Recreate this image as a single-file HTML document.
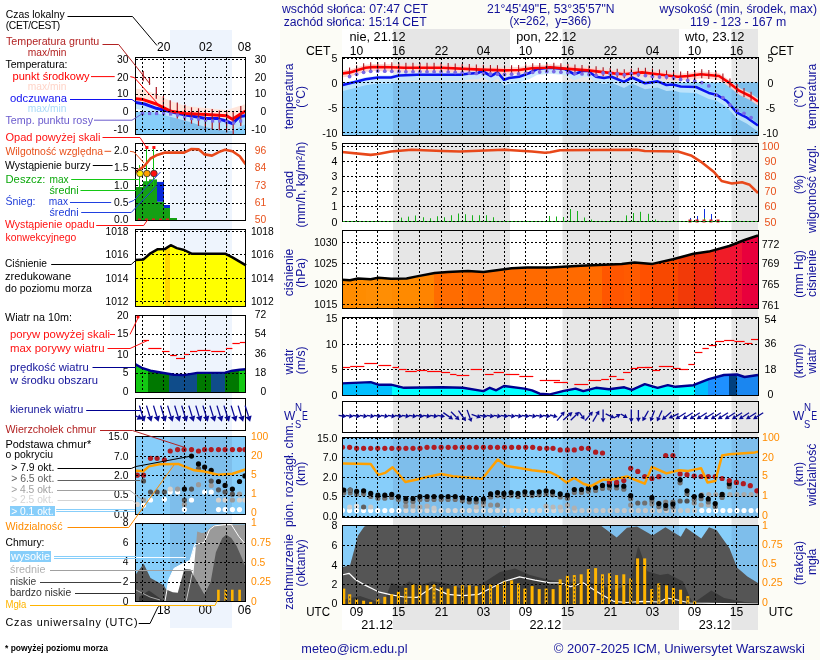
<!DOCTYPE html><html><head><meta charset="utf-8"><title>Meteogram ICM</title><style>html,body{margin:0;padding:0;background:#fff;}svg{display:block;will-change:transform;}text{font-family:"Liberation Sans", Arial, sans-serif;}</style></head><body><svg width="820" height="660" viewBox="0 0 820 660"><rect x="0" y="0" width="820" height="660" fill="#ffffff" /><rect x="280" y="0" width="540" height="660" fill="#fcfcf6" /><rect x="342" y="29" width="416" height="601" fill="#ffffff" /><rect x="393" y="29" width="117" height="601" fill="#e6e6e6" /><rect x="562.5" y="29" width="116.5" height="601" fill="#e6e6e6" /><rect x="731.5" y="29" width="26.5" height="601" fill="#e6e6e6" /><rect x="170" y="30" width="62" height="598" fill="#eef4fd" /><defs><clipPath id="rtemp"><rect x="343" y="58" width="415" height="77"/></clipPath><clipPath id="rprec"><rect x="343" y="144" width="415" height="77"/></clipPath><clipPath id="rpres"><rect x="343" y="231" width="415" height="77"/></clipPath><clipPath id="rwind"><rect x="343" y="318" width="415" height="77"/></clipPath><clipPath id="rwdir"><rect x="343" y="402" width="415" height="30"/></clipPath><clipPath id="rcb"><rect x="343" y="438" width="415" height="79"/></clipPath><clipPath id="rcc"><rect x="343" y="526" width="415" height="78"/></clipPath><clipPath id="ltemp"><rect x="136" y="58" width="109" height="76"/></clipPath><clipPath id="lprec"><rect x="136" y="144" width="109" height="76"/></clipPath><clipPath id="lpres"><rect x="136" y="230" width="109" height="76"/></clipPath><clipPath id="lwind"><rect x="136" y="316" width="109" height="76"/></clipPath><clipPath id="lwdir"><rect x="136" y="399" width="109" height="31"/></clipPath><clipPath id="lcb"><rect x="136" y="437" width="109" height="77"/></clipPath><clipPath id="lcc"><rect x="136" y="524" width="109" height="77"/></clipPath></defs><g clip-path="url(#rtemp)"><rect x="342" y="57" width="416" height="78" fill="#ffffff" /><rect x="393" y="57" width="117" height="78" fill="#e6e6e6" /><rect x="562.5" y="57" width="116.5" height="78" fill="#e6e6e6" /><rect x="731.5" y="57" width="26.5" height="78" fill="#e6e6e6" /><rect x="342" y="82.5" width="416" height="52.5" fill="#87cefa" /><rect x="393" y="82.5" width="117" height="52.5" fill="#7ebeeb" /><rect x="562.5" y="82.5" width="116.5" height="52.5" fill="#7ebeeb" /><rect x="731.5" y="82.5" width="26.5" height="52.5" fill="#7ebeeb" /><polygon points="342.6,70.4 350.0,69.4 358.0,66.9 365.6,64.8 373.3,64.0 391.0,64.3 404.0,64.8 442.0,64.8 480.8,66.6 504.0,67.4 519.0,67.0 532.0,65.3 545.0,64.8 550.0,64.3 565.0,65.6 588.0,67.4 614.0,70.4 624.0,71.2 642.0,69.4 657.5,71.2 678.0,73.8 688.0,73.0 701.0,71.2 719.0,73.0 729.0,79.7 739.5,87.9 750.0,93.0 758.0,98.5 758.0,105.5 750.0,100.0 739.5,94.9 729.0,86.7 719.0,80.0 701.0,78.2 688.0,80.0 678.0,80.8 657.5,78.2 642.0,76.4 624.0,78.2 614.0,77.4 588.0,74.4 565.0,72.6 550.0,71.3 545.0,71.8 532.0,72.3 519.0,74.0 504.0,74.4 480.8,73.6 442.0,71.8 404.0,71.8 391.0,71.3 373.3,71.0 365.6,71.8 358.0,73.9 350.0,76.4 342.6,77.4" fill="#ffd2cc" stroke="none" stroke-width="0" opacity="0.9"/><polygon points="342.6,83.0 355.0,80.0 365.6,77.3 378.0,75.5 391.0,75.5 399.0,73.5 417.0,72.7 460.0,72.7 468.0,71.7 478.0,71.0 482.0,69.0 491.0,74.0 497.5,70.4 504.0,77.8 509.0,76.0 519.0,74.8 529.5,71.0 537.0,67.0 550.0,65.8 565.0,67.0 574.0,72.2 583.0,69.0 588.0,69.0 596.0,74.8 604.0,76.0 611.5,74.8 624.0,79.9 632.0,75.5 645.0,81.2 657.5,79.4 666.5,83.0 673.0,82.5 680.6,84.5 696.0,85.0 708.8,90.9 716.5,92.7 726.7,99.0 737.0,110.6 747.0,115.7 758.0,123.5 758.0,131.5 747.0,123.7 737.0,118.6 726.7,107.0 716.5,100.7 708.8,98.9 696.0,93.0 680.6,92.5 673.0,90.5 666.5,91.0 657.5,87.4 645.0,89.2 632.0,83.5 624.0,87.9 611.5,82.8 604.0,84.0 596.0,82.8 588.0,77.0 583.0,77.0 574.0,80.2 565.0,75.0 550.0,73.8 537.0,75.0 529.5,79.0 519.0,82.8 509.0,84.0 504.0,85.8 497.5,78.4 491.0,82.0 482.0,77.0 478.0,79.0 468.0,79.7 460.0,80.7 417.0,80.7 399.0,81.5 391.0,83.5 378.0,83.5 365.6,85.3 355.0,88.0 342.6,91.0" fill="#c4e6fb" stroke="none" stroke-width="0" opacity="0.85"/><polyline points="342.6,85.0 355.0,82.0 365.6,79.3 378.0,77.5 391.0,77.5 399.0,75.5 417.0,74.7 460.0,74.7 468.0,73.7 478.0,73.0 482.0,71.0 491.0,76.0 497.5,72.4 504.0,79.8 509.0,78.0 519.0,76.8 529.5,73.0 537.0,69.0 550.0,67.8 565.0,69.0 574.0,74.2 583.0,71.0 588.0,71.0 596.0,76.8 604.0,78.0 611.5,76.8 624.0,81.9 632.0,77.5 645.0,83.2 657.5,81.4 666.5,85.0 673.0,84.5 680.6,86.5 696.0,87.0 708.8,92.9 716.5,94.7 726.7,101.0 737.0,112.6 747.0,117.7 758.0,125.5" fill="none" stroke="#0a14f0" stroke-width="2.6" stroke-linejoin="round" /><polyline points="342.6,73.4 350.0,72.4 358.0,69.9 365.6,67.8 373.3,67.0 391.0,67.3 404.0,67.8 442.0,67.8 480.8,69.6 504.0,70.4 519.0,70.0 532.0,68.3 545.0,67.8 550.0,67.3 565.0,68.6 588.0,70.4 614.0,73.4 624.0,74.2 642.0,72.4 657.5,74.2 678.0,76.8 688.0,76.0 701.0,74.2 719.0,76.0 729.0,82.7 739.5,90.9 750.0,96.0 758.0,101.5" fill="none" stroke="#ff0000" stroke-width="2.6" stroke-linejoin="round" /><line x1="349.55600000000004" y1="67.46000000012702" x2="349.55600000000004" y2="76.46000000012702" stroke="#a8141e" stroke-width="1.1" /><circle cx="349.6" cy="76.5" r="1.9" fill="#7a6ae6"/><line x1="356.6" y1="65.3375000002578" x2="356.6" y2="74.3375000002578" stroke="#a8141e" stroke-width="1.1" /><circle cx="356.6" cy="74.3" r="1.9" fill="#7a6ae6"/><line x1="363.644" y1="63.34047368441573" x2="363.644" y2="72.34047368441573" stroke="#a8141e" stroke-width="1.1" /><circle cx="363.6" cy="72.3" r="1.9" fill="#7a6ae6"/><line x1="370.68800000000005" y1="62.27137662344528" x2="370.68800000000005" y2="71.27137662344528" stroke="#a8141e" stroke-width="1.1" /><circle cx="370.7" cy="71.3" r="1.9" fill="#7a6ae6"/><line x1="377.732" y1="62.07511864406355" x2="377.732" y2="71.07511864406355" stroke="#a8141e" stroke-width="1.1" /><circle cx="377.7" cy="71.1" r="1.9" fill="#7a6ae6"/><line x1="384.776" y1="62.19450847456528" x2="384.776" y2="71.19450847456528" stroke="#a8141e" stroke-width="1.1" /><circle cx="384.8" cy="71.2" r="1.9" fill="#7a6ae6"/><line x1="391.82000000000005" y1="62.33153846153604" x2="391.82000000000005" y2="71.33153846153604" stroke="#a8141e" stroke-width="1.1" /><circle cx="391.8" cy="71.3" r="1.9" fill="#7a6ae6"/><line x1="398.86400000000003" y1="62.60246153843828" x2="398.86400000000003" y2="71.60246153843828" stroke="#a8141e" stroke-width="1.1" /><circle cx="398.9" cy="71.6" r="1.9" fill="#7a6ae6"/><line x1="405.908" y1="62.8" x2="405.908" y2="71.8" stroke="#a8141e" stroke-width="1.1" /><circle cx="405.9" cy="71.8" r="1.9" fill="#7a6ae6"/><line x1="412.952" y1="62.8" x2="412.952" y2="71.8" stroke="#a8141e" stroke-width="1.1" /><circle cx="413.0" cy="71.8" r="1.9" fill="#7a6ae6"/><line x1="419.99600000000004" y1="62.8" x2="419.99600000000004" y2="71.8" stroke="#a8141e" stroke-width="1.1" /><circle cx="420.0" cy="71.8" r="1.9" fill="#7a6ae6"/><line x1="427.04" y1="62.8" x2="427.04" y2="71.8" stroke="#a8141e" stroke-width="1.1" /><circle cx="427.0" cy="71.8" r="1.9" fill="#7a6ae6"/><line x1="434.084" y1="62.8" x2="434.084" y2="71.8" stroke="#a8141e" stroke-width="1.1" /><circle cx="434.1" cy="71.8" r="1.9" fill="#7a6ae6"/><line x1="441.12800000000004" y1="62.8" x2="441.12800000000004" y2="71.8" stroke="#a8141e" stroke-width="1.1" /><circle cx="441.1" cy="71.8" r="1.9" fill="#7a6ae6"/><line x1="448.172" y1="63.08632989689984" x2="448.172" y2="72.08632989689984" stroke="#a8141e" stroke-width="1.1" /><circle cx="448.2" cy="72.1" r="1.9" fill="#7a6ae6"/><line x1="455.216" y1="63.41311340204605" x2="455.216" y2="72.41311340204605" stroke="#a8141e" stroke-width="1.1" /><circle cx="455.2" cy="72.4" r="1.9" fill="#7a6ae6"/><line x1="462.26" y1="63.73989690719226" x2="462.26" y2="72.73989690719226" stroke="#a8141e" stroke-width="1.1" /><circle cx="462.3" cy="72.7" r="1.9" fill="#7a6ae6"/><line x1="469.30400000000003" y1="64.06668041233848" x2="469.30400000000003" y2="73.06668041233848" stroke="#a8141e" stroke-width="1.1" /><circle cx="469.3" cy="73.1" r="1.9" fill="#7a6ae6"/><line x1="476.348" y1="64.3934639174847" x2="476.348" y2="73.3934639174847" stroke="#a8141e" stroke-width="1.1" /><circle cx="476.3" cy="73.4" r="1.9" fill="#7a6ae6"/><line x1="483.392" y1="64.68937931034097" x2="483.392" y2="73.68937931034097" stroke="#a8141e" stroke-width="1.1" /><circle cx="483.4" cy="73.7" r="1.9" fill="#7a6ae6"/><line x1="490.43600000000004" y1="64.93227586205464" x2="490.43600000000004" y2="73.93227586205464" stroke="#a8141e" stroke-width="1.1" /><circle cx="490.4" cy="73.9" r="1.9" fill="#7a6ae6"/><line x1="497.48" y1="65.17517241376831" x2="497.48" y2="74.17517241376831" stroke="#a8141e" stroke-width="1.1" /><circle cx="497.5" cy="74.2" r="1.9" fill="#7a6ae6"/><line x1="504.524" y1="65.3860266666676" x2="504.524" y2="74.3860266666676" stroke="#a8141e" stroke-width="1.1" /><circle cx="504.5" cy="74.4" r="1.9" fill="#7a6ae6"/><line x1="511.568" y1="65.19818666668013" x2="511.568" y2="74.19818666668013" stroke="#a8141e" stroke-width="1.1" /><circle cx="511.6" cy="74.2" r="1.9" fill="#7a6ae6"/><line x1="518.6120000000001" y1="65.01034666669264" x2="518.6120000000001" y2="74.01034666669264" stroke="#a8141e" stroke-width="1.1" /><circle cx="518.6" cy="74.0" r="1.9" fill="#7a6ae6"/><line x1="525.656" y1="64.12960000006696" x2="525.656" y2="73.12960000006696" stroke="#a8141e" stroke-width="1.1" /><circle cx="525.7" cy="73.1" r="1.9" fill="#7a6ae6"/><line x1="532.7" y1="63.27307692307899" x2="532.7" y2="72.27307692307899" stroke="#a8141e" stroke-width="1.1" /><circle cx="532.7" cy="72.3" r="1.9" fill="#7a6ae6"/><line x1="539.744" y1="63.00215384617675" x2="539.744" y2="72.00215384617675" stroke="#a8141e" stroke-width="1.1" /><circle cx="539.7" cy="72.0" r="1.9" fill="#7a6ae6"/><line x1="546.788" y1="62.621200000035756" x2="546.788" y2="71.62120000003576" stroke="#a8141e" stroke-width="1.1" /><circle cx="546.8" cy="71.6" r="1.9" fill="#7a6ae6"/><line x1="553.832" y1="62.63210666664452" x2="553.832" y2="71.63210666664452" stroke="#a8141e" stroke-width="1.1" /><circle cx="553.8" cy="71.6" r="1.9" fill="#7a6ae6"/><line x1="560.876" y1="63.24258666660383" x2="560.876" y2="72.24258666660383" stroke="#a8141e" stroke-width="1.1" /><circle cx="560.9" cy="72.2" r="1.9" fill="#7a6ae6"/><line x1="567.9200000000001" y1="63.828521739120504" x2="567.9200000000001" y2="72.8285217391205" stroke="#a8141e" stroke-width="1.1" /><circle cx="567.9" cy="72.8" r="1.9" fill="#7a6ae6"/><line x1="574.9639999999999" y1="64.37979130431391" x2="574.9639999999999" y2="73.37979130431391" stroke="#a8141e" stroke-width="1.1" /><circle cx="575.0" cy="73.4" r="1.9" fill="#7a6ae6"/><line x1="582.008" y1="64.93106086950735" x2="582.008" y2="73.93106086950735" stroke="#a8141e" stroke-width="1.1" /><circle cx="582.0" cy="73.9" r="1.9" fill="#7a6ae6"/><line x1="589.052" y1="65.52138461537996" x2="589.052" y2="74.52138461537996" stroke="#a8141e" stroke-width="1.1" /><circle cx="589.1" cy="74.5" r="1.9" fill="#7a6ae6"/><line x1="596.096" y1="66.33415384611793" x2="596.096" y2="75.33415384611793" stroke="#a8141e" stroke-width="1.1" /><circle cx="596.1" cy="75.3" r="1.9" fill="#7a6ae6"/><line x1="603.14" y1="67.1469230768559" x2="603.14" y2="76.1469230768559" stroke="#a8141e" stroke-width="1.1" /><circle cx="603.1" cy="73.0" r="1.9" fill="#7a6ae6"/><line x1="610.184" y1="67.95969230759385" x2="610.184" y2="76.95969230759385" stroke="#a8141e" stroke-width="1.1" /><circle cx="610.2" cy="73.5" r="1.9" fill="#7a6ae6"/><line x1="617.2280000000001" y1="68.65823999997419" x2="617.2280000000001" y2="77.65823999997419" stroke="#a8141e" stroke-width="1.1" /><circle cx="617.2" cy="74.0" r="1.9" fill="#7a6ae6"/><line x1="624.2719999999999" y1="69.17280000000152" x2="624.2719999999999" y2="78.17280000000152" stroke="#a8141e" stroke-width="1.1" /><circle cx="624.3" cy="74.9" r="1.9" fill="#7a6ae6"/><line x1="631.316" y1="68.46840000004065" x2="631.316" y2="77.46840000004065" stroke="#a8141e" stroke-width="1.1" /><circle cx="631.3" cy="73.6" r="1.9" fill="#7a6ae6"/><line x1="638.36" y1="67.76400000007978" x2="638.36" y2="76.76400000007978" stroke="#a8141e" stroke-width="1.1" /><circle cx="638.4" cy="74.6" r="1.9" fill="#7a6ae6"/><line x1="645.404" y1="67.79530322578096" x2="645.404" y2="76.79530322578096" stroke="#a8141e" stroke-width="1.1" /><circle cx="645.4" cy="75.6" r="1.9" fill="#7a6ae6"/><line x1="652.448" y1="68.61331612895398" x2="652.448" y2="77.61331612895398" stroke="#a8141e" stroke-width="1.1" /><circle cx="652.4" cy="76.5" r="1.9" fill="#7a6ae6"/><line x1="659.492" y1="69.4526439024267" x2="659.492" y2="78.4526439024267" stroke="#a8141e" stroke-width="1.1" /><circle cx="659.5" cy="76.9" r="1.9" fill="#7a6ae6"/><line x1="666.5360000000001" y1="70.34602926823679" x2="666.5360000000001" y2="79.34602926823679" stroke="#a8141e" stroke-width="1.1" /><circle cx="666.5" cy="77.0" r="1.9" fill="#7a6ae6"/><line x1="673.5799999999999" y1="71.23941463404685" x2="673.5799999999999" y2="80.23941463404685" stroke="#a8141e" stroke-width="1.1" /><circle cx="673.6" cy="78.1" r="1.9" fill="#7a6ae6"/><line x1="680.624" y1="71.59008000002099" x2="680.624" y2="80.59008000002099" stroke="#a8141e" stroke-width="1.1" /><circle cx="680.6" cy="79.5" r="1.9" fill="#7a6ae6"/><line x1="687.668" y1="71.02656000007734" x2="687.668" y2="80.02656000007734" stroke="#a8141e" stroke-width="1.1" /><circle cx="687.7" cy="80.4" r="1.9" fill="#7a6ae6"/><line x1="694.712" y1="70.07064615391765" x2="694.712" y2="79.07064615391765" stroke="#a8141e" stroke-width="1.1" /><circle cx="694.7" cy="80.9" r="1.9" fill="#7a6ae6"/><line x1="701.7560000000001" y1="69.2755999999958" x2="701.7560000000001" y2="78.2755999999958" stroke="#a8141e" stroke-width="1.1" /><circle cx="701.8" cy="82.6" r="1.9" fill="#7a6ae6"/><line x1="708.8" y1="69.97999999995666" x2="708.8" y2="78.97999999995666" stroke="#a8141e" stroke-width="1.1" /><circle cx="708.8" cy="85.9" r="1.9" fill="#7a6ae6"/><line x1="715.844" y1="70.68439999991755" x2="715.844" y2="79.68439999991755" stroke="#a8141e" stroke-width="1.1" /><circle cx="715.8" cy="95.2" r="1.9" fill="#7a6ae6"/><line x1="722.8879999999999" y1="73.60495999973945" x2="722.8879999999999" y2="82.60495999973945" stroke="#a8141e" stroke-width="1.1" /><circle cx="722.9" cy="97.6" r="1.9" fill="#7a6ae6"/><line x1="729.932" y1="78.42784761897832" x2="729.932" y2="87.42784761897832" stroke="#a8141e" stroke-width="1.1" /><circle cx="729.9" cy="105.0" r="1.9" fill="#7a6ae6"/><line x1="736.976" y1="83.92887618988297" x2="736.976" y2="92.92887618988297" stroke="#a8141e" stroke-width="1.1" /><circle cx="737.0" cy="110.5" r="1.9" fill="#7a6ae6"/><line x1="744.02" y1="88.09542857121947" x2="744.02" y2="97.09542857121947" stroke="#a8141e" stroke-width="1.1" /><circle cx="744.0" cy="113.3" r="1.9" fill="#7a6ae6"/><line x1="751.0640000000001" y1="91.73149999990862" x2="751.0640000000001" y2="100.73149999990862" stroke="#a8141e" stroke-width="1.1" /><circle cx="751.1" cy="117.6" r="1.9" fill="#7a6ae6"/></g><line x1="343" y1="58.0" x2="758" y2="58.0" stroke="#000" stroke-width="1" stroke-dasharray="2,2" shape-rendering="crispEdges"/><line x1="343" y1="82.5" x2="758" y2="82.5" stroke="#000" stroke-width="1" stroke-dasharray="2,2" shape-rendering="crispEdges"/><line x1="343" y1="107.5" x2="758" y2="107.5" stroke="#000" stroke-width="1" stroke-dasharray="2,2" shape-rendering="crispEdges"/><line x1="343" y1="132.5" x2="758" y2="132.5" stroke="#000" stroke-width="1" stroke-dasharray="2,2" shape-rendering="crispEdges"/><line x1="356.5" y1="58" x2="356.5" y2="135" stroke="#000" stroke-width="1" stroke-dasharray="2,2" shape-rendering="crispEdges"/><line x1="377.5" y1="58" x2="377.5" y2="135" stroke="#000" stroke-width="1" stroke-dasharray="2,2" shape-rendering="crispEdges"/><line x1="398.5" y1="58" x2="398.5" y2="135" stroke="#000" stroke-width="1" stroke-dasharray="2,2" shape-rendering="crispEdges"/><line x1="419.5" y1="58" x2="419.5" y2="135" stroke="#000" stroke-width="1" stroke-dasharray="2,2" shape-rendering="crispEdges"/><line x1="441.5" y1="58" x2="441.5" y2="135" stroke="#000" stroke-width="1" stroke-dasharray="2,2" shape-rendering="crispEdges"/><line x1="462.5" y1="58" x2="462.5" y2="135" stroke="#000" stroke-width="1" stroke-dasharray="2,2" shape-rendering="crispEdges"/><line x1="483.5" y1="58" x2="483.5" y2="135" stroke="#000" stroke-width="1" stroke-dasharray="2,2" shape-rendering="crispEdges"/><line x1="504.5" y1="58" x2="504.5" y2="135" stroke="#000" stroke-width="1" stroke-dasharray="2,2" shape-rendering="crispEdges"/><line x1="525.5" y1="58" x2="525.5" y2="135" stroke="#000" stroke-width="1" stroke-dasharray="2,2" shape-rendering="crispEdges"/><line x1="546.5" y1="58" x2="546.5" y2="135" stroke="#000" stroke-width="1" stroke-dasharray="2,2" shape-rendering="crispEdges"/><line x1="567.5" y1="58" x2="567.5" y2="135" stroke="#000" stroke-width="1" stroke-dasharray="2,2" shape-rendering="crispEdges"/><line x1="589.5" y1="58" x2="589.5" y2="135" stroke="#000" stroke-width="1" stroke-dasharray="2,2" shape-rendering="crispEdges"/><line x1="610.5" y1="58" x2="610.5" y2="135" stroke="#000" stroke-width="1" stroke-dasharray="2,2" shape-rendering="crispEdges"/><line x1="631.5" y1="58" x2="631.5" y2="135" stroke="#000" stroke-width="1" stroke-dasharray="2,2" shape-rendering="crispEdges"/><line x1="652.5" y1="58" x2="652.5" y2="135" stroke="#000" stroke-width="1" stroke-dasharray="2,2" shape-rendering="crispEdges"/><line x1="673.5" y1="58" x2="673.5" y2="135" stroke="#000" stroke-width="1" stroke-dasharray="2,2" shape-rendering="crispEdges"/><line x1="694.5" y1="58" x2="694.5" y2="135" stroke="#000" stroke-width="1" stroke-dasharray="2,2" shape-rendering="crispEdges"/><line x1="715.5" y1="58" x2="715.5" y2="135" stroke="#000" stroke-width="1" stroke-dasharray="2,2" shape-rendering="crispEdges"/><line x1="736.5" y1="58" x2="736.5" y2="135" stroke="#000" stroke-width="1" stroke-dasharray="2,2" shape-rendering="crispEdges"/><rect x="342.5" y="57.5" width="416" height="78" fill="none" stroke="#000" stroke-width="1" shape-rendering="crispEdges"/><g clip-path="url(#rprec)"><rect x="401" y="217.6" width="1" height="3.4" fill="#17b01a" /><rect x="408" y="216.6" width="1" height="4.4" fill="#17b01a" /><rect x="415" y="215.5" width="1" height="5.5" fill="#17b01a" /><rect x="423" y="217.25" width="1" height="3.75" fill="#17b01a" /><rect x="430" y="218.25" width="1" height="2.75" fill="#17b01a" /><rect x="437" y="216.25" width="1" height="4.75" fill="#17b01a" /><rect x="444" y="217.25" width="1" height="3.75" fill="#17b01a" /><rect x="451" y="215.25" width="1" height="5.75" fill="#17b01a" /><rect x="458" y="213.5" width="1" height="7.5" fill="#17b01a" /><rect x="465" y="214.25" width="1" height="6.75" fill="#17b01a" /><rect x="472" y="215.25" width="1" height="5.75" fill="#17b01a" /><rect x="479" y="215.25" width="1" height="5.75" fill="#17b01a" /><rect x="486" y="215.25" width="1" height="5.75" fill="#17b01a" /><rect x="493" y="217.25" width="1" height="3.75" fill="#17b01a" /><rect x="549" y="216" width="1" height="5" fill="#17b01a" /><rect x="556" y="216.5" width="1" height="4.5" fill="#17b01a" /><rect x="563" y="217" width="1" height="4" fill="#17b01a" /><rect x="570" y="209" width="1" height="12" fill="#17b01a" /><rect x="577" y="211" width="1" height="10" fill="#17b01a" /><rect x="584" y="217.5" width="1" height="3.5" fill="#17b01a" /><rect x="591" y="219.5" width="1" height="1.5" fill="#17b01a" /><rect x="626" y="215.4" width="1" height="5.6" fill="#17b01a" /><rect x="633" y="213" width="1" height="8" fill="#17b01a" /><rect x="640" y="211.8" width="1" height="9.2" fill="#17b01a" /><rect x="648" y="213.8" width="1" height="7.2" fill="#17b01a" /><rect x="655" y="219.5" width="1" height="1.5" fill="#17b01a" /><rect x="690" y="218" width="1" height="3" fill="#1030e0" /><rect x="697" y="216" width="1" height="5" fill="#1030e0" /><rect x="704" y="209" width="1" height="12" fill="#1030e0" /><rect x="711" y="214" width="1" height="7" fill="#1030e0" /><rect x="704" y="218" width="1" height="3" fill="#17b01a" /></g><line x1="343" y1="146.5" x2="758" y2="146.5" stroke="#000" stroke-width="1" stroke-dasharray="2,2" shape-rendering="crispEdges"/><line x1="343" y1="161.5" x2="758" y2="161.5" stroke="#000" stroke-width="1" stroke-dasharray="2,2" shape-rendering="crispEdges"/><line x1="343" y1="176.5" x2="758" y2="176.5" stroke="#000" stroke-width="1" stroke-dasharray="2,2" shape-rendering="crispEdges"/><line x1="343" y1="191.5" x2="758" y2="191.5" stroke="#000" stroke-width="1" stroke-dasharray="2,2" shape-rendering="crispEdges"/><line x1="343" y1="206.5" x2="758" y2="206.5" stroke="#000" stroke-width="1" stroke-dasharray="2,2" shape-rendering="crispEdges"/><line x1="356.5" y1="144" x2="356.5" y2="221" stroke="#000" stroke-width="1" stroke-dasharray="2,2" shape-rendering="crispEdges"/><line x1="377.5" y1="144" x2="377.5" y2="221" stroke="#000" stroke-width="1" stroke-dasharray="2,2" shape-rendering="crispEdges"/><line x1="398.5" y1="144" x2="398.5" y2="221" stroke="#000" stroke-width="1" stroke-dasharray="2,2" shape-rendering="crispEdges"/><line x1="419.5" y1="144" x2="419.5" y2="221" stroke="#000" stroke-width="1" stroke-dasharray="2,2" shape-rendering="crispEdges"/><line x1="441.5" y1="144" x2="441.5" y2="221" stroke="#000" stroke-width="1" stroke-dasharray="2,2" shape-rendering="crispEdges"/><line x1="462.5" y1="144" x2="462.5" y2="221" stroke="#000" stroke-width="1" stroke-dasharray="2,2" shape-rendering="crispEdges"/><line x1="483.5" y1="144" x2="483.5" y2="221" stroke="#000" stroke-width="1" stroke-dasharray="2,2" shape-rendering="crispEdges"/><line x1="504.5" y1="144" x2="504.5" y2="221" stroke="#000" stroke-width="1" stroke-dasharray="2,2" shape-rendering="crispEdges"/><line x1="525.5" y1="144" x2="525.5" y2="221" stroke="#000" stroke-width="1" stroke-dasharray="2,2" shape-rendering="crispEdges"/><line x1="546.5" y1="144" x2="546.5" y2="221" stroke="#000" stroke-width="1" stroke-dasharray="2,2" shape-rendering="crispEdges"/><line x1="567.5" y1="144" x2="567.5" y2="221" stroke="#000" stroke-width="1" stroke-dasharray="2,2" shape-rendering="crispEdges"/><line x1="589.5" y1="144" x2="589.5" y2="221" stroke="#000" stroke-width="1" stroke-dasharray="2,2" shape-rendering="crispEdges"/><line x1="610.5" y1="144" x2="610.5" y2="221" stroke="#000" stroke-width="1" stroke-dasharray="2,2" shape-rendering="crispEdges"/><line x1="631.5" y1="144" x2="631.5" y2="221" stroke="#000" stroke-width="1" stroke-dasharray="2,2" shape-rendering="crispEdges"/><line x1="652.5" y1="144" x2="652.5" y2="221" stroke="#000" stroke-width="1" stroke-dasharray="2,2" shape-rendering="crispEdges"/><line x1="673.5" y1="144" x2="673.5" y2="221" stroke="#000" stroke-width="1" stroke-dasharray="2,2" shape-rendering="crispEdges"/><line x1="694.5" y1="144" x2="694.5" y2="221" stroke="#000" stroke-width="1" stroke-dasharray="2,2" shape-rendering="crispEdges"/><line x1="715.5" y1="144" x2="715.5" y2="221" stroke="#000" stroke-width="1" stroke-dasharray="2,2" shape-rendering="crispEdges"/><line x1="736.5" y1="144" x2="736.5" y2="221" stroke="#000" stroke-width="1" stroke-dasharray="2,2" shape-rendering="crispEdges"/><polyline points="342.0,152.0 370.7,154.9 378.0,154.0 391.0,151.5 411.7,149.7 442.0,151.0 460.0,151.5 504.0,149.7 532.0,151.5 545.0,152.8 550.0,152.3 560.0,150.2 637.0,149.7 644.7,151.0 678.0,151.5 691.0,155.4 701.0,161.8 714.0,172.0 721.6,181.0 731.8,183.5 742.0,182.3 749.7,184.8 758.0,193.0" fill="none" stroke="#e8481a" stroke-width="2.6" stroke-linejoin="round" /><rect x="688.5" y="219.5" width="3" height="3" fill="#d02020" /><rect x="695.5" y="219.5" width="3" height="3" fill="#d02020" /><rect x="702.5" y="219.5" width="3" height="3" fill="#d02020" /><rect x="709.5" y="219.5" width="3" height="3" fill="#d02020" /><rect x="716.5" y="219.5" width="3" height="3" fill="#d02020" /><rect x="342.5" y="143.5" width="416" height="78" fill="none" stroke="#000" stroke-width="1" shape-rendering="crispEdges"/><line x1="343" y1="221.5" x2="758" y2="221.5" stroke="#20b020" stroke-width="1" stroke-dasharray="2,2"/><g clip-path="url(#rpres)"><rect x="342" y="230" width="416" height="78" fill="#ffffff" /><rect x="393" y="230" width="117" height="78" fill="#e6e6e6" /><rect x="562.5" y="230" width="116.5" height="78" fill="#e6e6e6" /><rect x="731.5" y="230" width="26.5" height="78" fill="#e6e6e6" /><clipPath id="presfill"><polygon points="342.0,279.8 350.0,280.3 358.0,278.5 370.7,279.3 378.4,277.7 391.0,278.7 406.6,278.5 416.8,276.4 434.7,272.9 447.6,272.0 468.0,271.0 483.4,272.0 498.8,270.0 511.6,268.3 527.0,267.5 550.0,267.5 580.7,265.7 621.7,263.9 634.5,262.4 652.4,263.9 673.0,259.3 693.4,253.7 708.8,251.6 729.3,246.0 744.6,240.0 758.0,235.5 758.0,309.0 342.0,309.0"/></clipPath><g clip-path="url(#presfill)"><rect x="342" y="230" width="24" height="78" fill="#ff8c00" /><rect x="366" y="230" width="26" height="78" fill="#ff8e04" /><rect x="392" y="230" width="28" height="78" fill="#ff8a00" /><rect x="420" y="230" width="14" height="78" fill="#ff8400" /><rect x="434" y="230" width="34" height="78" fill="#ff6c00" /><rect x="468" y="230" width="16" height="78" fill="#ff6800" /><rect x="484" y="230" width="16" height="78" fill="#ff6e04" /><rect x="500" y="230" width="50" height="78" fill="#ff6a00" /><rect x="550" y="230" width="52" height="78" fill="#ff6a00" /><rect x="602" y="230" width="22" height="78" fill="#ff5600" /><rect x="624" y="230" width="16" height="78" fill="#ff5a00" /><rect x="640" y="230" width="12" height="78" fill="#ff5000" /><rect x="652" y="230" width="26" height="78" fill="#f84800" /><rect x="678" y="230" width="16" height="78" fill="#f23a08" /><rect x="694" y="230" width="20" height="78" fill="#f02c10" /><rect x="714" y="230" width="16" height="78" fill="#f01c28" /><rect x="730" y="230" width="12" height="78" fill="#f01234" /><rect x="742" y="230" width="16" height="78" fill="#e8003c" /></g></g><line x1="343" y1="242.5" x2="758" y2="242.5" stroke="#000" stroke-width="1" stroke-dasharray="2,2" shape-rendering="crispEdges"/><line x1="343" y1="263.5" x2="758" y2="263.5" stroke="#000" stroke-width="1" stroke-dasharray="2,2" shape-rendering="crispEdges"/><line x1="343" y1="284.5" x2="758" y2="284.5" stroke="#000" stroke-width="1" stroke-dasharray="2,2" shape-rendering="crispEdges"/><line x1="343" y1="304.5" x2="758" y2="304.5" stroke="#000" stroke-width="1" stroke-dasharray="2,2" shape-rendering="crispEdges"/><line x1="356.5" y1="231" x2="356.5" y2="308" stroke="#000" stroke-width="1" stroke-dasharray="2,2" shape-rendering="crispEdges"/><line x1="377.5" y1="231" x2="377.5" y2="308" stroke="#000" stroke-width="1" stroke-dasharray="2,2" shape-rendering="crispEdges"/><line x1="398.5" y1="231" x2="398.5" y2="308" stroke="#000" stroke-width="1" stroke-dasharray="2,2" shape-rendering="crispEdges"/><line x1="419.5" y1="231" x2="419.5" y2="308" stroke="#000" stroke-width="1" stroke-dasharray="2,2" shape-rendering="crispEdges"/><line x1="441.5" y1="231" x2="441.5" y2="308" stroke="#000" stroke-width="1" stroke-dasharray="2,2" shape-rendering="crispEdges"/><line x1="462.5" y1="231" x2="462.5" y2="308" stroke="#000" stroke-width="1" stroke-dasharray="2,2" shape-rendering="crispEdges"/><line x1="483.5" y1="231" x2="483.5" y2="308" stroke="#000" stroke-width="1" stroke-dasharray="2,2" shape-rendering="crispEdges"/><line x1="504.5" y1="231" x2="504.5" y2="308" stroke="#000" stroke-width="1" stroke-dasharray="2,2" shape-rendering="crispEdges"/><line x1="525.5" y1="231" x2="525.5" y2="308" stroke="#000" stroke-width="1" stroke-dasharray="2,2" shape-rendering="crispEdges"/><line x1="546.5" y1="231" x2="546.5" y2="308" stroke="#000" stroke-width="1" stroke-dasharray="2,2" shape-rendering="crispEdges"/><line x1="567.5" y1="231" x2="567.5" y2="308" stroke="#000" stroke-width="1" stroke-dasharray="2,2" shape-rendering="crispEdges"/><line x1="589.5" y1="231" x2="589.5" y2="308" stroke="#000" stroke-width="1" stroke-dasharray="2,2" shape-rendering="crispEdges"/><line x1="610.5" y1="231" x2="610.5" y2="308" stroke="#000" stroke-width="1" stroke-dasharray="2,2" shape-rendering="crispEdges"/><line x1="631.5" y1="231" x2="631.5" y2="308" stroke="#000" stroke-width="1" stroke-dasharray="2,2" shape-rendering="crispEdges"/><line x1="652.5" y1="231" x2="652.5" y2="308" stroke="#000" stroke-width="1" stroke-dasharray="2,2" shape-rendering="crispEdges"/><line x1="673.5" y1="231" x2="673.5" y2="308" stroke="#000" stroke-width="1" stroke-dasharray="2,2" shape-rendering="crispEdges"/><line x1="694.5" y1="231" x2="694.5" y2="308" stroke="#000" stroke-width="1" stroke-dasharray="2,2" shape-rendering="crispEdges"/><line x1="715.5" y1="231" x2="715.5" y2="308" stroke="#000" stroke-width="1" stroke-dasharray="2,2" shape-rendering="crispEdges"/><line x1="736.5" y1="231" x2="736.5" y2="308" stroke="#000" stroke-width="1" stroke-dasharray="2,2" shape-rendering="crispEdges"/><polyline points="342.0,279.8 350.0,280.3 358.0,278.5 370.7,279.3 378.4,277.7 391.0,278.7 406.6,278.5 416.8,276.4 434.7,272.9 447.6,272.0 468.0,271.0 483.4,272.0 498.8,270.0 511.6,268.3 527.0,267.5 550.0,267.5 580.7,265.7 621.7,263.9 634.5,262.4 652.4,263.9 673.0,259.3 693.4,253.7 708.8,251.6 729.3,246.0 744.6,240.0 758.0,235.5" fill="none" stroke="#000" stroke-width="2.5" stroke-linejoin="round" /><rect x="342.5" y="230.5" width="416" height="78" fill="none" stroke="#000" stroke-width="1" shape-rendering="crispEdges"/><g clip-path="url(#rwind)"><rect x="342" y="317" width="416" height="78" fill="#ffffff" /><rect x="393" y="317" width="117" height="78" fill="#e6e6e6" /><rect x="562.5" y="317" width="116.5" height="78" fill="#e6e6e6" /><rect x="731.5" y="317" width="26.5" height="78" fill="#e6e6e6" /><clipPath id="windfill"><polygon points="342.0,383.4 370.7,382.1 378.4,384.7 391.0,384.7 404.0,387.8 442.4,387.3 463.0,387.8 483.4,391.1 489.8,387.8 496.2,390.3 504.0,386.0 524.4,388.6 532.0,390.3 539.7,393.7 550.0,394.4 562.8,391.1 575.6,388.6 583.3,391.1 596.0,387.8 609.0,389.3 624.3,387.3 632.0,389.8 644.8,384.2 657.6,387.8 667.8,385.2 675.5,386.8 693.4,385.2 708.8,379.1 724.0,375.0 737.0,374.5 744.6,377.0 758.0,375.0 758.0,396.0 342.0,396.0"/></clipPath><g clip-path="url(#windfill)"><rect x="342" y="317" width="50" height="78" fill="#00bfff" /><rect x="392" y="317" width="303" height="78" fill="#00ffff" /><rect x="695" y="317" width="13" height="78" fill="#00bfff" /><rect x="708" y="317" width="21" height="78" fill="#1e90ff" /><rect x="729" y="317" width="8" height="78" fill="#00407f" /><rect x="737" y="317" width="21" height="78" fill="#1a86f0" /></g></g><line x1="343" y1="318.5" x2="758" y2="318.5" stroke="#000" stroke-width="1" stroke-dasharray="2,2" shape-rendering="crispEdges"/><line x1="343" y1="344.5" x2="758" y2="344.5" stroke="#000" stroke-width="1" stroke-dasharray="2,2" shape-rendering="crispEdges"/><line x1="343" y1="369.5" x2="758" y2="369.5" stroke="#000" stroke-width="1" stroke-dasharray="2,2" shape-rendering="crispEdges"/><line x1="356.5" y1="318" x2="356.5" y2="395" stroke="#000" stroke-width="1" stroke-dasharray="2,2" shape-rendering="crispEdges"/><line x1="377.5" y1="318" x2="377.5" y2="395" stroke="#000" stroke-width="1" stroke-dasharray="2,2" shape-rendering="crispEdges"/><line x1="398.5" y1="318" x2="398.5" y2="395" stroke="#000" stroke-width="1" stroke-dasharray="2,2" shape-rendering="crispEdges"/><line x1="419.5" y1="318" x2="419.5" y2="395" stroke="#000" stroke-width="1" stroke-dasharray="2,2" shape-rendering="crispEdges"/><line x1="441.5" y1="318" x2="441.5" y2="395" stroke="#000" stroke-width="1" stroke-dasharray="2,2" shape-rendering="crispEdges"/><line x1="462.5" y1="318" x2="462.5" y2="395" stroke="#000" stroke-width="1" stroke-dasharray="2,2" shape-rendering="crispEdges"/><line x1="483.5" y1="318" x2="483.5" y2="395" stroke="#000" stroke-width="1" stroke-dasharray="2,2" shape-rendering="crispEdges"/><line x1="504.5" y1="318" x2="504.5" y2="395" stroke="#000" stroke-width="1" stroke-dasharray="2,2" shape-rendering="crispEdges"/><line x1="525.5" y1="318" x2="525.5" y2="395" stroke="#000" stroke-width="1" stroke-dasharray="2,2" shape-rendering="crispEdges"/><line x1="546.5" y1="318" x2="546.5" y2="395" stroke="#000" stroke-width="1" stroke-dasharray="2,2" shape-rendering="crispEdges"/><line x1="567.5" y1="318" x2="567.5" y2="395" stroke="#000" stroke-width="1" stroke-dasharray="2,2" shape-rendering="crispEdges"/><line x1="589.5" y1="318" x2="589.5" y2="395" stroke="#000" stroke-width="1" stroke-dasharray="2,2" shape-rendering="crispEdges"/><line x1="610.5" y1="318" x2="610.5" y2="395" stroke="#000" stroke-width="1" stroke-dasharray="2,2" shape-rendering="crispEdges"/><line x1="631.5" y1="318" x2="631.5" y2="395" stroke="#000" stroke-width="1" stroke-dasharray="2,2" shape-rendering="crispEdges"/><line x1="652.5" y1="318" x2="652.5" y2="395" stroke="#000" stroke-width="1" stroke-dasharray="2,2" shape-rendering="crispEdges"/><line x1="673.5" y1="318" x2="673.5" y2="395" stroke="#000" stroke-width="1" stroke-dasharray="2,2" shape-rendering="crispEdges"/><line x1="694.5" y1="318" x2="694.5" y2="395" stroke="#000" stroke-width="1" stroke-dasharray="2,2" shape-rendering="crispEdges"/><line x1="715.5" y1="318" x2="715.5" y2="395" stroke="#000" stroke-width="1" stroke-dasharray="2,2" shape-rendering="crispEdges"/><line x1="736.5" y1="318" x2="736.5" y2="395" stroke="#000" stroke-width="1" stroke-dasharray="2,2" shape-rendering="crispEdges"/><line x1="342.6" y1="367.5" x2="350.2" y2="367.5" stroke="#ff0000" stroke-width="1.2" /><line x1="350.2" y1="366.5" x2="364.3" y2="366.5" stroke="#ff0000" stroke-width="1.2" /><line x1="364.3" y1="363.5" x2="377.1" y2="363.5" stroke="#ff0000" stroke-width="1.2" /><line x1="378.4" y1="365.5" x2="391.2" y2="365.5" stroke="#ff0000" stroke-width="1.2" /><line x1="392.5" y1="367.5" x2="398.9" y2="367.5" stroke="#ff0000" stroke-width="1.2" /><line x1="398.9" y1="369.5" x2="406.6" y2="369.5" stroke="#ff0000" stroke-width="1.2" /><line x1="405.3" y1="371.5" x2="416.8" y2="371.5" stroke="#ff0000" stroke-width="1.2" /><line x1="416.8" y1="370.5" x2="427.1" y2="370.5" stroke="#ff0000" stroke-width="1.2" /><line x1="427.1" y1="371.5" x2="441.2" y2="371.5" stroke="#ff0000" stroke-width="1.2" /><line x1="441.2" y1="372.5" x2="450.1" y2="372.5" stroke="#ff0000" stroke-width="1.2" /><line x1="450.1" y1="374.5" x2="456.5" y2="374.5" stroke="#ff0000" stroke-width="1.2" /><line x1="456.5" y1="375.5" x2="469.3" y2="375.5" stroke="#ff0000" stroke-width="1.2" /><line x1="470.6" y1="369.5" x2="482.1" y2="369.5" stroke="#ff0000" stroke-width="1.2" /><line x1="484.7" y1="374.5" x2="493.6" y2="374.5" stroke="#ff0000" stroke-width="1.2" /><line x1="493.6" y1="372.5" x2="503.9" y2="372.5" stroke="#ff0000" stroke-width="1.2" /><line x1="505.2" y1="374.5" x2="519.3" y2="374.5" stroke="#ff0000" stroke-width="1.2" /><line x1="519.3" y1="376.5" x2="533.3" y2="376.5" stroke="#ff0000" stroke-width="1.2" /><line x1="539.7" y1="380.5" x2="550" y2="380.5" stroke="#ff0000" stroke-width="1.2" /><line x1="550" y1="380.5" x2="560" y2="380.5" stroke="#ff0000" stroke-width="1.2" /><line x1="553.8" y1="382.5" x2="567.9" y2="382.5" stroke="#ff0000" stroke-width="1.2" /><line x1="574.3" y1="384.5" x2="588.4" y2="384.5" stroke="#ff0000" stroke-width="1.2" /><line x1="588.4" y1="380.5" x2="601.2" y2="380.5" stroke="#ff0000" stroke-width="1.2" /><line x1="601.2" y1="379.5" x2="608.9" y2="379.5" stroke="#ff0000" stroke-width="1.2" /><line x1="608.9" y1="376.5" x2="616.6" y2="376.5" stroke="#ff0000" stroke-width="1.2" /><line x1="616.6" y1="379.5" x2="624.3" y2="379.5" stroke="#ff0000" stroke-width="1.2" /><line x1="623" y1="372.5" x2="630.7" y2="372.5" stroke="#ff0000" stroke-width="1.2" /><line x1="630.7" y1="368.5" x2="638.3" y2="368.5" stroke="#ff0000" stroke-width="1.2" /><line x1="637" y1="367.5" x2="649.9" y2="367.5" stroke="#ff0000" stroke-width="1.2" /><line x1="644.7" y1="367.5" x2="652.4" y2="367.5" stroke="#ff0000" stroke-width="1.2" /><line x1="652.4" y1="370.5" x2="660.1" y2="370.5" stroke="#ff0000" stroke-width="1.2" /><line x1="658.8" y1="366.5" x2="672.9" y2="366.5" stroke="#ff0000" stroke-width="1.2" /><line x1="672.9" y1="368.5" x2="680.6" y2="368.5" stroke="#ff0000" stroke-width="1.2" /><line x1="680.6" y1="369.5" x2="688.3" y2="369.5" stroke="#ff0000" stroke-width="1.2" /><line x1="688.3" y1="364.5" x2="694.7" y2="364.5" stroke="#ff0000" stroke-width="1.2" /><line x1="694.7" y1="352.5" x2="702.4" y2="352.5" stroke="#ff0000" stroke-width="1.2" /><line x1="702.4" y1="348.5" x2="708.8" y2="348.5" stroke="#ff0000" stroke-width="1.2" /><line x1="708.8" y1="345.5" x2="716.5" y2="345.5" stroke="#ff0000" stroke-width="1.2" /><line x1="715.2" y1="341.5" x2="724.1" y2="341.5" stroke="#ff0000" stroke-width="1.2" /><line x1="724.1" y1="340.5" x2="734.4" y2="340.5" stroke="#ff0000" stroke-width="1.2" /><line x1="734.4" y1="341.5" x2="744.6" y2="341.5" stroke="#ff0000" stroke-width="1.2" /><line x1="744.6" y1="343.5" x2="752.3" y2="343.5" stroke="#ff0000" stroke-width="1.2" /><line x1="751" y1="339.5" x2="758" y2="339.5" stroke="#ff0000" stroke-width="1.2" /><polyline points="342.0,383.4 370.7,382.1 378.4,384.7 391.0,384.7 404.0,387.8 442.4,387.3 463.0,387.8 483.4,391.1 489.8,387.8 496.2,390.3 504.0,386.0 524.4,388.6 532.0,390.3 539.7,393.7 550.0,394.4 562.8,391.1 575.6,388.6 583.3,391.1 596.0,387.8 609.0,389.3 624.3,387.3 632.0,389.8 644.8,384.2 657.6,387.8 667.8,385.2 675.5,386.8 693.4,385.2 708.8,379.1 724.0,375.0 737.0,374.5 744.6,377.0 758.0,375.0" fill="none" stroke="#000090" stroke-width="2.4" stroke-linejoin="round" /><rect x="342.5" y="317.5" width="416" height="78" fill="none" stroke="#000" stroke-width="1" shape-rendering="crispEdges"/><rect x="342" y="402" width="416" height="30" fill="#ffffff" /><rect x="393" y="402" width="117" height="30" fill="#e6e6e6" /><rect x="562.5" y="402" width="116.5" height="30" fill="#e6e6e6" /><rect x="731.5" y="402" width="26.5" height="30" fill="#e6e6e6" /><line x1="356.5" y1="402" x2="356.5" y2="432" stroke="#000" stroke-width="1" stroke-dasharray="2,2" shape-rendering="crispEdges"/><line x1="377.5" y1="402" x2="377.5" y2="432" stroke="#000" stroke-width="1" stroke-dasharray="2,2" shape-rendering="crispEdges"/><line x1="398.5" y1="402" x2="398.5" y2="432" stroke="#000" stroke-width="1" stroke-dasharray="2,2" shape-rendering="crispEdges"/><line x1="419.5" y1="402" x2="419.5" y2="432" stroke="#000" stroke-width="1" stroke-dasharray="2,2" shape-rendering="crispEdges"/><line x1="441.5" y1="402" x2="441.5" y2="432" stroke="#000" stroke-width="1" stroke-dasharray="2,2" shape-rendering="crispEdges"/><line x1="462.5" y1="402" x2="462.5" y2="432" stroke="#000" stroke-width="1" stroke-dasharray="2,2" shape-rendering="crispEdges"/><line x1="483.5" y1="402" x2="483.5" y2="432" stroke="#000" stroke-width="1" stroke-dasharray="2,2" shape-rendering="crispEdges"/><line x1="504.5" y1="402" x2="504.5" y2="432" stroke="#000" stroke-width="1" stroke-dasharray="2,2" shape-rendering="crispEdges"/><line x1="525.5" y1="402" x2="525.5" y2="432" stroke="#000" stroke-width="1" stroke-dasharray="2,2" shape-rendering="crispEdges"/><line x1="546.5" y1="402" x2="546.5" y2="432" stroke="#000" stroke-width="1" stroke-dasharray="2,2" shape-rendering="crispEdges"/><line x1="567.5" y1="402" x2="567.5" y2="432" stroke="#000" stroke-width="1" stroke-dasharray="2,2" shape-rendering="crispEdges"/><line x1="589.5" y1="402" x2="589.5" y2="432" stroke="#000" stroke-width="1" stroke-dasharray="2,2" shape-rendering="crispEdges"/><line x1="610.5" y1="402" x2="610.5" y2="432" stroke="#000" stroke-width="1" stroke-dasharray="2,2" shape-rendering="crispEdges"/><line x1="631.5" y1="402" x2="631.5" y2="432" stroke="#000" stroke-width="1" stroke-dasharray="2,2" shape-rendering="crispEdges"/><line x1="652.5" y1="402" x2="652.5" y2="432" stroke="#000" stroke-width="1" stroke-dasharray="2,2" shape-rendering="crispEdges"/><line x1="673.5" y1="402" x2="673.5" y2="432" stroke="#000" stroke-width="1" stroke-dasharray="2,2" shape-rendering="crispEdges"/><line x1="694.5" y1="402" x2="694.5" y2="432" stroke="#000" stroke-width="1" stroke-dasharray="2,2" shape-rendering="crispEdges"/><line x1="715.5" y1="402" x2="715.5" y2="432" stroke="#000" stroke-width="1" stroke-dasharray="2,2" shape-rendering="crispEdges"/><line x1="736.5" y1="402" x2="736.5" y2="432" stroke="#000" stroke-width="1" stroke-dasharray="2,2" shape-rendering="crispEdges"/><rect x="342.5" y="401.5" width="416" height="31" fill="none" stroke="#000" stroke-width="1" shape-rendering="crispEdges"/><line x1="338.6" y1="415.4" x2="342.4" y2="416.0" stroke="#0a0a96" stroke-width="1.3" /><polygon points="346.5,416.6 342.0,418.4 342.7,413.6" fill="#0a0a96" stroke="none" stroke-width="0" /><line x1="345.6" y1="415.4" x2="349.4" y2="416.0" stroke="#0a0a96" stroke-width="1.3" /><polygon points="353.5,416.6 349.1,418.4 349.7,413.6" fill="#0a0a96" stroke="none" stroke-width="0" /><line x1="352.6" y1="415.4" x2="356.4" y2="416.0" stroke="#0a0a96" stroke-width="1.3" /><polygon points="360.6,416.6 356.1,418.4 356.8,413.6" fill="#0a0a96" stroke="none" stroke-width="0" /><line x1="359.7" y1="415.4" x2="363.5" y2="416.0" stroke="#0a0a96" stroke-width="1.3" /><polygon points="367.6,416.6 363.2,418.4 363.8,413.6" fill="#0a0a96" stroke="none" stroke-width="0" /><line x1="366.7" y1="415.4" x2="370.5" y2="416.0" stroke="#0a0a96" stroke-width="1.3" /><polygon points="374.6,416.6 370.2,418.4 370.9,413.6" fill="#0a0a96" stroke="none" stroke-width="0" /><line x1="373.8" y1="415.4" x2="377.6" y2="416.0" stroke="#0a0a96" stroke-width="1.3" /><polygon points="381.7,416.6 377.2,418.4 377.9,413.6" fill="#0a0a96" stroke="none" stroke-width="0" /><line x1="380.8" y1="415.4" x2="384.6" y2="416.0" stroke="#0a0a96" stroke-width="1.3" /><polygon points="388.7,416.6 384.3,418.4 385.0,413.6" fill="#0a0a96" stroke="none" stroke-width="0" /><line x1="387.9" y1="415.4" x2="391.7" y2="416.0" stroke="#0a0a96" stroke-width="1.3" /><polygon points="395.8,416.6 391.3,418.4 392.0,413.6" fill="#0a0a96" stroke="none" stroke-width="0" /><line x1="394.9" y1="415.4" x2="398.7" y2="416.0" stroke="#0a0a96" stroke-width="1.3" /><polygon points="402.8,416.6 398.4,418.4 399.0,413.6" fill="#0a0a96" stroke="none" stroke-width="0" /><line x1="401.9" y1="415.4" x2="405.7" y2="416.0" stroke="#0a0a96" stroke-width="1.3" /><polygon points="409.9,416.6 405.4,418.4 406.1,413.6" fill="#0a0a96" stroke="none" stroke-width="0" /><line x1="409.0" y1="415.4" x2="412.8" y2="416.0" stroke="#0a0a96" stroke-width="1.3" /><polygon points="416.9,416.6 412.5,418.4 413.1,413.6" fill="#0a0a96" stroke="none" stroke-width="0" /><line x1="416.0" y1="415.4" x2="419.8" y2="416.0" stroke="#0a0a96" stroke-width="1.3" /><polygon points="424.0,416.6 419.5,418.4 420.2,413.6" fill="#0a0a96" stroke="none" stroke-width="0" /><line x1="423.1" y1="415.4" x2="426.9" y2="416.0" stroke="#0a0a96" stroke-width="1.3" /><polygon points="431.0,416.6 426.5,418.4 427.2,413.6" fill="#0a0a96" stroke="none" stroke-width="0" /><line x1="430.1" y1="415.4" x2="433.9" y2="416.0" stroke="#0a0a96" stroke-width="1.3" /><polygon points="438.0,416.6 433.6,418.4 434.3,413.6" fill="#0a0a96" stroke="none" stroke-width="0" /><line x1="437.2" y1="415.4" x2="441.0" y2="416.0" stroke="#0a0a96" stroke-width="1.3" /><polygon points="445.1,416.6 440.6,418.4 441.3,413.6" fill="#0a0a96" stroke="none" stroke-width="0" /><line x1="443.3" y1="412.6" x2="449.7" y2="417.1" stroke="#0a0a96" stroke-width="1.3" /><polygon points="453.1,419.4 448.3,419.0 451.1,415.1" fill="#0a0a96" stroke="none" stroke-width="0" /><line x1="451.0" y1="411.8" x2="456.5" y2="417.3" stroke="#0a0a96" stroke-width="1.3" /><polygon points="459.5,420.2 454.8,419.0 458.2,415.6" fill="#0a0a96" stroke="none" stroke-width="0" /><line x1="458.5" y1="410.7" x2="463.6" y2="417.9" stroke="#0a0a96" stroke-width="1.3" /><polygon points="466.0,421.3 461.6,419.3 465.6,416.5" fill="#0a0a96" stroke="none" stroke-width="0" /><line x1="467.1" y1="409.9" x2="470.1" y2="418.2" stroke="#0a0a96" stroke-width="1.3" /><polygon points="471.5,422.1 467.8,419.0 472.4,417.4" fill="#0a0a96" stroke="none" stroke-width="0" /><line x1="471.6" y1="414.3" x2="477.1" y2="416.3" stroke="#0a0a96" stroke-width="1.3" /><polygon points="481.0,417.7 476.3,418.5 478.0,414.0" fill="#0a0a96" stroke="none" stroke-width="0" /><line x1="479.4" y1="415.4" x2="483.2" y2="416.0" stroke="#0a0a96" stroke-width="1.3" /><polygon points="487.4,416.6 482.9,418.4 483.6,413.6" fill="#0a0a96" stroke="none" stroke-width="0" /><line x1="486.5" y1="415.4" x2="490.3" y2="416.0" stroke="#0a0a96" stroke-width="1.3" /><polygon points="494.4,416.6 489.9,418.4 490.6,413.6" fill="#0a0a96" stroke="none" stroke-width="0" /><line x1="493.5" y1="415.4" x2="497.3" y2="416.0" stroke="#0a0a96" stroke-width="1.3" /><polygon points="501.4,416.6 497.0,418.4 497.7,413.6" fill="#0a0a96" stroke="none" stroke-width="0" /><line x1="500.6" y1="415.4" x2="504.4" y2="416.0" stroke="#0a0a96" stroke-width="1.3" /><polygon points="508.5,416.6 504.0,418.4 504.7,413.6" fill="#0a0a96" stroke="none" stroke-width="0" /><line x1="507.6" y1="415.4" x2="511.4" y2="416.0" stroke="#0a0a96" stroke-width="1.3" /><polygon points="515.5,416.6 511.1,418.4 511.7,413.6" fill="#0a0a96" stroke="none" stroke-width="0" /><line x1="514.7" y1="415.4" x2="518.5" y2="416.0" stroke="#0a0a96" stroke-width="1.3" /><polygon points="522.6,416.6 518.1,418.4 518.8,413.6" fill="#0a0a96" stroke="none" stroke-width="0" /><line x1="521.7" y1="415.4" x2="525.5" y2="416.0" stroke="#0a0a96" stroke-width="1.3" /><polygon points="529.6,416.6 525.2,418.4 525.8,413.6" fill="#0a0a96" stroke="none" stroke-width="0" /><line x1="528.7" y1="415.4" x2="532.5" y2="416.0" stroke="#0a0a96" stroke-width="1.3" /><polygon points="536.7,416.6 532.2,418.4 532.9,413.6" fill="#0a0a96" stroke="none" stroke-width="0" /><line x1="535.8" y1="415.4" x2="539.6" y2="416.0" stroke="#0a0a96" stroke-width="1.3" /><polygon points="543.7,416.6 539.3,418.4 539.9,413.6" fill="#0a0a96" stroke="none" stroke-width="0" /><line x1="542.8" y1="415.4" x2="546.6" y2="416.0" stroke="#0a0a96" stroke-width="1.3" /><polygon points="550.7,416.6 546.3,418.4 547.0,413.6" fill="#0a0a96" stroke="none" stroke-width="0" /><line x1="550.0" y1="415.0" x2="553.7" y2="416.0" stroke="#0a0a96" stroke-width="1.3" /><polygon points="557.7,417.0 553.1,418.3 554.3,413.6" fill="#0a0a96" stroke="none" stroke-width="0" /><line x1="557.0" y1="420.6" x2="562.1" y2="414.6" stroke="#0a0a96" stroke-width="1.3" /><polygon points="564.7,411.4 563.9,416.1 560.2,413.0" fill="#0a0a96" stroke="none" stroke-width="0" /><line x1="563.3" y1="419.9" x2="569.3" y2="414.8" stroke="#0a0a96" stroke-width="1.3" /><polygon points="572.5,412.1 570.9,416.7 567.8,413.0" fill="#0a0a96" stroke="none" stroke-width="0" /><line x1="570.7" y1="420.2" x2="576.3" y2="414.7" stroke="#0a0a96" stroke-width="1.3" /><polygon points="579.2,411.8 578.0,416.4 574.6,413.0" fill="#0a0a96" stroke="none" stroke-width="0" /><line x1="579.4" y1="412.3" x2="582.2" y2="416.3" stroke="#0a0a96" stroke-width="1.3" /><polygon points="584.6,419.7 580.2,417.7 584.2,414.9" fill="#0a0a96" stroke="none" stroke-width="0" /><line x1="585.2" y1="420.6" x2="590.2" y2="414.6" stroke="#0a0a96" stroke-width="1.3" /><polygon points="592.9,411.4 592.1,416.1 588.4,413.0" fill="#0a0a96" stroke="none" stroke-width="0" /><line x1="592.8" y1="421.6" x2="597.3" y2="414.0" stroke="#0a0a96" stroke-width="1.3" /><polygon points="599.3,410.4 599.3,415.2 595.2,412.8" fill="#0a0a96" stroke="none" stroke-width="0" /><line x1="603.1" y1="409.5" x2="603.1" y2="418.3" stroke="#0a0a96" stroke-width="1.3" /><polygon points="603.1,422.5 600.7,418.3 605.5,418.3" fill="#0a0a96" stroke="none" stroke-width="0" /><line x1="605.7" y1="413.9" x2="610.9" y2="416.4" stroke="#0a0a96" stroke-width="1.3" /><polygon points="614.7,418.1 609.9,418.5 612.0,414.2" fill="#0a0a96" stroke="none" stroke-width="0" /><line x1="613.8" y1="418.0" x2="617.1" y2="416.1" stroke="#0a0a96" stroke-width="1.3" /><polygon points="620.7,414.0 618.3,418.2 615.9,414.0" fill="#0a0a96" stroke="none" stroke-width="0" /><line x1="620.8" y1="414.0" x2="624.1" y2="415.9" stroke="#0a0a96" stroke-width="1.3" /><polygon points="627.7,418.0 622.9,418.0 625.3,413.8" fill="#0a0a96" stroke="none" stroke-width="0" /><line x1="631.3" y1="409.5" x2="631.3" y2="418.3" stroke="#0a0a96" stroke-width="1.3" /><polygon points="631.3,422.5 628.9,418.3 633.7,418.3" fill="#0a0a96" stroke="none" stroke-width="0" /><line x1="638.4" y1="410.0" x2="638.4" y2="417.8" stroke="#0a0a96" stroke-width="1.3" /><polygon points="638.4,422.0 636.0,417.8 640.8,417.8" fill="#0a0a96" stroke="none" stroke-width="0" /><line x1="648.4" y1="410.8" x2="644.5" y2="417.6" stroke="#0a0a96" stroke-width="1.3" /><polygon points="642.4,421.2 642.4,416.4 646.6,418.8" fill="#0a0a96" stroke="none" stroke-width="0" /><line x1="654.5" y1="410.4" x2="651.8" y2="417.7" stroke="#0a0a96" stroke-width="1.3" /><polygon points="650.4,421.6 649.6,416.9 654.1,418.5" fill="#0a0a96" stroke="none" stroke-width="0" /><line x1="662.0" y1="410.6" x2="658.7" y2="417.7" stroke="#0a0a96" stroke-width="1.3" /><polygon points="657.0,421.4 656.5,416.7 660.9,418.7" fill="#0a0a96" stroke="none" stroke-width="0" /><line x1="671.1" y1="412.1" x2="665.1" y2="417.2" stroke="#0a0a96" stroke-width="1.3" /><polygon points="661.9,419.9 663.6,415.3 666.7,419.0" fill="#0a0a96" stroke="none" stroke-width="0" /><line x1="678.6" y1="413.7" x2="672.4" y2="416.6" stroke="#0a0a96" stroke-width="1.3" /><polygon points="668.6,418.3 671.4,414.4 673.4,418.7" fill="#0a0a96" stroke="none" stroke-width="0" /><line x1="685.7" y1="412.8" x2="679.1" y2="417.0" stroke="#0a0a96" stroke-width="1.3" /><polygon points="675.5,419.2 677.8,414.9 680.3,419.0" fill="#0a0a96" stroke="none" stroke-width="0" /><line x1="692.8" y1="412.8" x2="686.1" y2="417.0" stroke="#0a0a96" stroke-width="1.3" /><polygon points="682.6,419.2 684.8,414.9 687.4,419.0" fill="#0a0a96" stroke="none" stroke-width="0" /><line x1="699.8" y1="412.8" x2="693.2" y2="417.0" stroke="#0a0a96" stroke-width="1.3" /><polygon points="689.6,419.2 691.9,414.9 694.4,419.0" fill="#0a0a96" stroke="none" stroke-width="0" /><line x1="706.8" y1="412.8" x2="700.2" y2="417.0" stroke="#0a0a96" stroke-width="1.3" /><polygon points="696.7,419.2 698.9,414.9 701.5,419.0" fill="#0a0a96" stroke="none" stroke-width="0" /><line x1="713.9" y1="412.8" x2="707.2" y2="417.0" stroke="#0a0a96" stroke-width="1.3" /><polygon points="703.7,419.2 706.0,414.9 708.5,419.0" fill="#0a0a96" stroke="none" stroke-width="0" /><line x1="720.9" y1="412.8" x2="714.3" y2="417.0" stroke="#0a0a96" stroke-width="1.3" /><polygon points="710.8,419.2 713.0,414.9 715.6,419.0" fill="#0a0a96" stroke="none" stroke-width="0" /><line x1="728.0" y1="412.8" x2="721.3" y2="417.0" stroke="#0a0a96" stroke-width="1.3" /><polygon points="717.8,419.2 720.1,414.9 722.6,419.0" fill="#0a0a96" stroke="none" stroke-width="0" /><line x1="735.0" y1="412.8" x2="728.4" y2="417.0" stroke="#0a0a96" stroke-width="1.3" /><polygon points="724.8,419.2 727.1,414.9 729.6,419.0" fill="#0a0a96" stroke="none" stroke-width="0" /><line x1="742.1" y1="412.8" x2="735.4" y2="417.0" stroke="#0a0a96" stroke-width="1.3" /><polygon points="731.9,419.2 734.1,414.9 736.7,419.0" fill="#0a0a96" stroke="none" stroke-width="0" /><line x1="749.1" y1="412.8" x2="742.5" y2="417.0" stroke="#0a0a96" stroke-width="1.3" /><polygon points="738.9,419.2 741.2,414.9 743.7,419.0" fill="#0a0a96" stroke="none" stroke-width="0" /><line x1="756.2" y1="412.8" x2="749.5" y2="417.0" stroke="#0a0a96" stroke-width="1.3" /><polygon points="746.0,419.2 748.2,414.9 750.8,419.0" fill="#0a0a96" stroke="none" stroke-width="0" /><line x1="763.2" y1="412.8" x2="756.5" y2="417.0" stroke="#0a0a96" stroke-width="1.3" /><polygon points="753.0,419.2 755.3,414.9 757.8,419.0" fill="#0a0a96" stroke="none" stroke-width="0" /><g clip-path="url(#rcb)"><rect x="342" y="437" width="416" height="80" fill="#87cefa" /><rect x="393" y="437" width="117" height="80" fill="#7ebeeb" /><rect x="562.5" y="437" width="116.5" height="80" fill="#7ebeeb" /><rect x="731.5" y="437" width="26.5" height="80" fill="#7ebeeb" /><circle cx="342.5" cy="510.5" r="2.6" fill="#ffffff"/><circle cx="349.6" cy="510.5" r="2.6" fill="#ffffff"/><circle cx="356.6" cy="510.5" r="2.6" fill="#ffffff"/><circle cx="363.6" cy="510.5" r="2.6" fill="#ffffff"/><circle cx="370.7" cy="510.5" r="2.6" fill="#ffffff"/><circle cx="377.7" cy="510.5" r="2.6" fill="#ffffff"/><circle cx="384.8" cy="510.5" r="2.6" fill="#ffffff"/><circle cx="391.8" cy="510.5" r="2.6" fill="#ffffff"/><circle cx="398.9" cy="510.5" r="2.6" fill="#ffffff"/><circle cx="405.9" cy="510.5" r="2.6" fill="#d8d8d8"/><circle cx="413.0" cy="510.5" r="2.6" fill="#d8d8d8"/><circle cx="420.0" cy="510.5" r="2.6" fill="#d8d8d8"/><circle cx="427.0" cy="510.5" r="2.6" fill="#d8d8d8"/><circle cx="434.1" cy="510.5" r="2.6" fill="#d8d8d8"/><circle cx="441.1" cy="510.5" r="2.6" fill="#d8d8d8"/><circle cx="448.2" cy="510.5" r="2.6" fill="#d8d8d8"/><circle cx="455.2" cy="510.5" r="2.6" fill="#d8d8d8"/><circle cx="462.3" cy="510.5" r="2.6" fill="#d8d8d8"/><circle cx="469.3" cy="510.5" r="2.6" fill="#d8d8d8"/><circle cx="476.3" cy="510.5" r="2.6" fill="#d8d8d8"/><circle cx="483.4" cy="510.5" r="2.6" fill="#d8d8d8"/><circle cx="490.4" cy="510.5" r="2.6" fill="#d8d8d8"/><circle cx="497.5" cy="510.5" r="2.6" fill="#d8d8d8"/><circle cx="504.5" cy="510.5" r="2.6" fill="#d8d8d8"/><circle cx="511.6" cy="510.5" r="2.6" fill="#d8d8d8"/><circle cx="518.6" cy="510.5" r="2.6" fill="#d8d8d8"/><circle cx="525.7" cy="510.5" r="2.6" fill="#d8d8d8"/><circle cx="532.7" cy="510.5" r="2.6" fill="#d8d8d8"/><circle cx="539.7" cy="510.5" r="2.6" fill="#d8d8d8"/><circle cx="546.8" cy="510.5" r="2.6" fill="#d8d8d8"/><circle cx="553.8" cy="510.5" r="2.6" fill="#d8d8d8"/><circle cx="560.9" cy="510.5" r="2.6" fill="#c8c8c8"/><circle cx="567.9" cy="510.5" r="2.6" fill="#c8c8c8"/><circle cx="575.0" cy="510.5" r="2.6" fill="#c8c8c8"/><circle cx="582.0" cy="510.5" r="2.6" fill="#c8c8c8"/><circle cx="589.1" cy="510.5" r="2.6" fill="#c8c8c8"/><circle cx="596.1" cy="510.5" r="2.6" fill="#c8c8c8"/><circle cx="603.1" cy="510.5" r="2.6" fill="#c8c8c8"/><circle cx="610.2" cy="510.5" r="2.6" fill="#c8c8c8"/><circle cx="617.2" cy="510.5" r="2.6" fill="#c8c8c8"/><circle cx="624.3" cy="510.5" r="2.6" fill="#c8c8c8"/><circle cx="631.3" cy="510.5" r="2.6" fill="#c8c8c8"/><circle cx="638.4" cy="510.5" r="2.6" fill="#c8c8c8"/><circle cx="645.4" cy="510.5" r="2.6" fill="#c8c8c8"/><circle cx="652.4" cy="510.5" r="2.6" fill="#c8c8c8"/><circle cx="659.5" cy="510.5" r="2.6" fill="#c8c8c8"/><circle cx="666.5" cy="510.5" r="2.6" fill="#c8c8c8"/><circle cx="673.6" cy="510.5" r="2.6" fill="#c8c8c8"/><circle cx="680.6" cy="510.5" r="2.6" fill="#c8c8c8"/><circle cx="687.7" cy="510.5" r="2.6" fill="#c8c8c8"/><circle cx="694.7" cy="510.5" r="2.6" fill="#c8c8c8"/><circle cx="701.8" cy="510.5" r="2.6" fill="#ffffff"/><circle cx="708.8" cy="510.5" r="2.6" fill="#ffffff"/><circle cx="715.8" cy="510.5" r="2.6" fill="#ffffff"/><circle cx="722.9" cy="510.5" r="2.6" fill="#ffffff"/><circle cx="729.9" cy="510.5" r="2.6" fill="#ffffff"/><circle cx="737.0" cy="510.5" r="2.6" fill="#ffffff"/><circle cx="744.0" cy="510.5" r="2.6" fill="#ffffff"/><circle cx="751.1" cy="510.5" r="2.6" fill="#ffffff"/><circle cx="758.1" cy="510.5" r="2.6" fill="#ffffff"/><circle cx="349.7" cy="507.0" r="2.6" fill="#d0d0d0"/><circle cx="356.6" cy="506.0" r="2.6" fill="#e0e0e0"/><circle cx="363.6" cy="507.0" r="2.6" fill="#606060"/><circle cx="370.7" cy="507.0" r="2.6" fill="#c8c8c8"/><circle cx="405.8" cy="506.0" r="2.6" fill="#909090"/><circle cx="413.0" cy="506.0" r="2.6" fill="#a0a0a0"/><circle cx="419.9" cy="507.0" r="2.6" fill="#a8a8a8"/><circle cx="427.1" cy="506.0" r="2.6" fill="#b0b0b0"/><circle cx="434.0" cy="508.0" r="2.6" fill="#c8c8c8"/><circle cx="476.2" cy="507.0" r="2.6" fill="#b8b8b8"/><circle cx="483.4" cy="505.0" r="2.6" fill="#a0a0a0"/><circle cx="490.6" cy="505.0" r="2.6" fill="#909090"/><circle cx="497.5" cy="505.0" r="2.6" fill="#808080"/><circle cx="546.0" cy="506.0" r="2.6" fill="#b0b0b0"/><circle cx="553.0" cy="507.0" r="2.6" fill="#b8b8b8"/><circle cx="560.2" cy="507.0" r="2.6" fill="#b8b8b8"/><circle cx="567.4" cy="505.0" r="2.6" fill="#a8a8a8"/><circle cx="574.3" cy="508.0" r="2.6" fill="#b0b0b0"/><circle cx="630.7" cy="505.0" r="2.6" fill="#909090"/><circle cx="637.8" cy="503.0" r="2.6" fill="#606060"/><circle cx="644.7" cy="503.0" r="2.6" fill="#707070"/><circle cx="651.9" cy="504.0" r="2.6" fill="#888888"/><circle cx="658.8" cy="503.0" r="2.6" fill="#a0a0a0"/><circle cx="665.7" cy="502.0" r="2.6" fill="#808080"/><circle cx="672.9" cy="502.0" r="2.6" fill="#707070"/><circle cx="680.1" cy="501.0" r="2.6" fill="#606060"/><circle cx="687.0" cy="501.0" r="2.6" fill="#505050"/><circle cx="694.2" cy="503.0" r="2.6" fill="#909090"/><circle cx="701.1" cy="505.0" r="2.6" fill="#a0a0a0"/><circle cx="708.3" cy="505.0" r="2.6" fill="#b0b0b0"/><circle cx="701.8" cy="494.5" r="2.6" fill="#a8a8a8"/><circle cx="708.8" cy="494.5" r="2.6" fill="#a8a8a8"/><circle cx="715.8" cy="494.5" r="2.6" fill="#a8a8a8"/><circle cx="722.9" cy="494.5" r="2.6" fill="#a8a8a8"/><circle cx="729.9" cy="494.5" r="2.6" fill="#a8a8a8"/><circle cx="737.0" cy="494.5" r="2.6" fill="#a8a8a8"/><circle cx="744.0" cy="494.5" r="2.6" fill="#a8a8a8"/><circle cx="751.1" cy="494.5" r="2.6" fill="#a8a8a8"/><circle cx="758.1" cy="494.5" r="2.6" fill="#a8a8a8"/><circle cx="343.8" cy="493.0" r="2.6" fill="#707070"/><circle cx="350.2" cy="493.0" r="2.6" fill="#707070"/><circle cx="356.6" cy="494.3" r="2.6" fill="#707070"/><circle cx="363.6" cy="493.8" r="2.6" fill="#707070"/><circle cx="370.7" cy="496.4" r="2.6" fill="#707070"/><circle cx="377.9" cy="498.2" r="2.6" fill="#707070"/><circle cx="384.8" cy="498.2" r="2.6" fill="#707070"/><circle cx="391.7" cy="497.4" r="2.6" fill="#707070"/><circle cx="398.4" cy="499.5" r="2.6" fill="#707070"/><circle cx="405.8" cy="501.5" r="2.6" fill="#707070"/><circle cx="413.0" cy="501.5" r="2.6" fill="#707070"/><circle cx="419.9" cy="499.5" r="2.6" fill="#707070"/><circle cx="427.1" cy="499.5" r="2.6" fill="#707070"/><circle cx="434.0" cy="499.5" r="2.6" fill="#707070"/><circle cx="441.2" cy="499.5" r="2.6" fill="#707070"/><circle cx="448.1" cy="499.5" r="2.6" fill="#707070"/><circle cx="455.2" cy="499.5" r="2.6" fill="#707070"/><circle cx="462.4" cy="500.7" r="2.6" fill="#707070"/><circle cx="469.3" cy="502.0" r="2.6" fill="#707070"/><circle cx="476.2" cy="502.0" r="2.6" fill="#707070"/><circle cx="483.4" cy="502.0" r="2.6" fill="#707070"/><circle cx="490.6" cy="496.9" r="2.6" fill="#707070"/><circle cx="497.5" cy="495.6" r="2.6" fill="#707070"/><circle cx="503.9" cy="496.4" r="2.6" fill="#707070"/><circle cx="511.1" cy="495.6" r="2.6" fill="#707070"/><circle cx="518.0" cy="496.4" r="2.6" fill="#707070"/><circle cx="524.9" cy="494.8" r="2.6" fill="#707070"/><circle cx="532.1" cy="495.6" r="2.6" fill="#707070"/><circle cx="539.2" cy="494.8" r="2.6" fill="#707070"/><circle cx="546.1" cy="493.8" r="2.6" fill="#707070"/><circle cx="552.6" cy="494.8" r="2.6" fill="#707070"/><circle cx="560.2" cy="496.9" r="2.6" fill="#707070"/><circle cx="567.4" cy="498.2" r="2.6" fill="#707070"/><circle cx="574.3" cy="492.5" r="2.6" fill="#707070"/><circle cx="581.5" cy="492.5" r="2.6" fill="#707070"/><circle cx="588.4" cy="491.3" r="2.6" fill="#707070"/><circle cx="595.6" cy="490.5" r="2.6" fill="#707070"/><circle cx="602.5" cy="488.4" r="2.6" fill="#707070"/><circle cx="609.4" cy="487.9" r="2.6" fill="#707070"/><circle cx="616.6" cy="487.9" r="2.6" fill="#707070"/><circle cx="623.8" cy="489.2" r="2.6" fill="#707070"/><circle cx="630.7" cy="498.7" r="2.6" fill="#707070"/><circle cx="651.9" cy="500.7" r="2.6" fill="#707070"/><circle cx="658.8" cy="506.6" r="2.6" fill="#707070"/><circle cx="665.7" cy="508.4" r="2.6" fill="#707070"/><circle cx="672.9" cy="507.1" r="2.6" fill="#707070"/><circle cx="680.1" cy="482.8" r="2.6" fill="#707070"/><circle cx="687.0" cy="493.8" r="2.6" fill="#707070"/><circle cx="694.2" cy="499.5" r="2.6" fill="#707070"/><circle cx="701.1" cy="498.7" r="2.6" fill="#707070"/><circle cx="708.3" cy="502.0" r="2.6" fill="#707070"/><circle cx="715.2" cy="506.6" r="2.6" fill="#707070"/><circle cx="722.1" cy="497.4" r="2.6" fill="#707070"/><circle cx="729.3" cy="486.7" r="2.6" fill="#707070"/><circle cx="343.8" cy="490.0" r="2.6" fill="#050505"/><circle cx="350.2" cy="490.0" r="2.6" fill="#050505"/><circle cx="356.6" cy="491.3" r="2.6" fill="#050505"/><circle cx="363.6" cy="490.8" r="2.6" fill="#050505"/><circle cx="370.7" cy="493.4" r="2.6" fill="#050505"/><circle cx="377.9" cy="495.2" r="2.6" fill="#050505"/><circle cx="384.8" cy="495.2" r="2.6" fill="#050505"/><circle cx="391.7" cy="494.4" r="2.6" fill="#050505"/><circle cx="398.4" cy="496.5" r="2.6" fill="#050505"/><circle cx="405.8" cy="498.5" r="2.6" fill="#050505"/><circle cx="413.0" cy="498.5" r="2.6" fill="#050505"/><circle cx="419.9" cy="496.5" r="2.6" fill="#050505"/><circle cx="427.1" cy="496.5" r="2.6" fill="#050505"/><circle cx="434.0" cy="496.5" r="2.6" fill="#050505"/><circle cx="441.2" cy="496.5" r="2.6" fill="#050505"/><circle cx="448.1" cy="496.5" r="2.6" fill="#050505"/><circle cx="455.2" cy="496.5" r="2.6" fill="#050505"/><circle cx="462.4" cy="497.7" r="2.6" fill="#050505"/><circle cx="469.3" cy="499.0" r="2.6" fill="#050505"/><circle cx="476.2" cy="499.0" r="2.6" fill="#050505"/><circle cx="483.4" cy="499.0" r="2.6" fill="#050505"/><circle cx="490.6" cy="493.9" r="2.6" fill="#050505"/><circle cx="497.5" cy="492.6" r="2.6" fill="#050505"/><circle cx="503.9" cy="493.4" r="2.6" fill="#050505"/><circle cx="511.1" cy="492.6" r="2.6" fill="#050505"/><circle cx="518.0" cy="493.4" r="2.6" fill="#050505"/><circle cx="524.9" cy="491.8" r="2.6" fill="#050505"/><circle cx="532.1" cy="492.6" r="2.6" fill="#050505"/><circle cx="539.2" cy="491.8" r="2.6" fill="#050505"/><circle cx="546.1" cy="490.8" r="2.6" fill="#050505"/><circle cx="552.6" cy="491.8" r="2.6" fill="#050505"/><circle cx="560.2" cy="493.9" r="2.6" fill="#050505"/><circle cx="567.4" cy="495.2" r="2.6" fill="#050505"/><circle cx="574.3" cy="489.5" r="2.6" fill="#050505"/><circle cx="581.5" cy="489.5" r="2.6" fill="#050505"/><circle cx="588.4" cy="488.3" r="2.6" fill="#050505"/><circle cx="595.6" cy="487.5" r="2.6" fill="#050505"/><circle cx="602.5" cy="485.4" r="2.6" fill="#050505"/><circle cx="609.4" cy="484.9" r="2.6" fill="#050505"/><circle cx="616.6" cy="484.9" r="2.6" fill="#050505"/><circle cx="623.8" cy="486.2" r="2.6" fill="#050505"/><circle cx="630.7" cy="495.7" r="2.6" fill="#050505"/><circle cx="651.9" cy="497.7" r="2.6" fill="#050505"/><circle cx="658.8" cy="503.6" r="2.6" fill="#050505"/><circle cx="665.7" cy="505.4" r="2.6" fill="#050505"/><circle cx="672.9" cy="504.1" r="2.6" fill="#050505"/><circle cx="680.1" cy="479.8" r="2.6" fill="#050505"/><circle cx="687.0" cy="490.8" r="2.6" fill="#050505"/><circle cx="694.2" cy="496.5" r="2.6" fill="#050505"/><circle cx="701.1" cy="495.7" r="2.6" fill="#050505"/><circle cx="708.3" cy="499.0" r="2.6" fill="#050505"/><circle cx="715.2" cy="503.6" r="2.6" fill="#050505"/><circle cx="722.1" cy="494.4" r="2.6" fill="#050505"/><circle cx="729.3" cy="483.7" r="2.6" fill="#050505"/><circle cx="350.2" cy="490.0" r="2.6" fill="#6a6a6a"/><circle cx="736.4" cy="482.4" r="2.6" fill="#7a7a7a"/><circle cx="342.5" cy="447.3" r="2.6" fill="#b01c22"/><circle cx="349.6" cy="447.3" r="2.6" fill="#b01c22"/><circle cx="356.6" cy="448.3" r="2.6" fill="#b01c22"/><circle cx="363.6" cy="448.3" r="2.6" fill="#b01c22"/><circle cx="370.7" cy="448.3" r="2.6" fill="#b01c22"/><circle cx="377.7" cy="448.3" r="2.6" fill="#b01c22"/><circle cx="384.8" cy="448.3" r="2.6" fill="#b01c22"/><circle cx="391.8" cy="448.3" r="2.6" fill="#b01c22"/><circle cx="398.9" cy="448.3" r="2.6" fill="#b01c22"/><circle cx="405.9" cy="448.3" r="2.6" fill="#b01c22"/><circle cx="413.0" cy="448.3" r="2.6" fill="#b01c22"/><circle cx="420.0" cy="448.3" r="2.6" fill="#b01c22"/><circle cx="427.0" cy="447.3" r="2.6" fill="#b01c22"/><circle cx="434.1" cy="447.3" r="2.6" fill="#b01c22"/><circle cx="441.1" cy="447.3" r="2.6" fill="#b01c22"/><circle cx="448.2" cy="447.3" r="2.6" fill="#b01c22"/><circle cx="455.2" cy="447.3" r="2.6" fill="#b01c22"/><circle cx="462.3" cy="447.3" r="2.6" fill="#b01c22"/><circle cx="469.3" cy="447.3" r="2.6" fill="#b01c22"/><circle cx="476.3" cy="447.3" r="2.6" fill="#b01c22"/><circle cx="483.4" cy="447.3" r="2.6" fill="#b01c22"/><circle cx="490.4" cy="447.3" r="2.6" fill="#b01c22"/><circle cx="497.5" cy="447.3" r="2.6" fill="#b01c22"/><circle cx="504.5" cy="447.3" r="2.6" fill="#b01c22"/><circle cx="511.6" cy="447.3" r="2.6" fill="#b01c22"/><circle cx="518.6" cy="447.3" r="2.6" fill="#b01c22"/><circle cx="525.7" cy="447.3" r="2.6" fill="#b01c22"/><circle cx="532.7" cy="447.3" r="2.6" fill="#b01c22"/><circle cx="539.7" cy="448.3" r="2.6" fill="#b01c22"/><circle cx="546.8" cy="448.3" r="2.6" fill="#b01c22"/><circle cx="609.4" cy="482.0" r="2.6" fill="#b01c22"/><circle cx="616.6" cy="482.4" r="2.6" fill="#b01c22"/><circle cx="623.8" cy="480.6" r="2.6" fill="#b01c22"/><circle cx="553.0" cy="448.3" r="2.6" fill="#b01c22"/><circle cx="560.2" cy="449.9" r="2.6" fill="#b01c22"/><circle cx="567.4" cy="449.9" r="2.6" fill="#b01c22"/><circle cx="574.3" cy="449.9" r="2.6" fill="#b01c22"/><circle cx="581.5" cy="448.3" r="2.6" fill="#b01c22"/><circle cx="588.4" cy="448.3" r="2.6" fill="#b01c22"/><circle cx="595.6" cy="452.2" r="2.6" fill="#b01c22"/><circle cx="602.5" cy="453.0" r="2.6" fill="#b01c22"/><circle cx="630.7" cy="468.3" r="2.6" fill="#b01c22"/><circle cx="637.8" cy="471.4" r="2.6" fill="#b01c22"/><circle cx="644.7" cy="476.5" r="2.6" fill="#b01c22"/><circle cx="651.9" cy="478.5" r="2.6" fill="#b01c22"/><circle cx="658.8" cy="476.7" r="2.6" fill="#b01c22"/><circle cx="665.7" cy="455.5" r="2.6" fill="#b01c22"/><circle cx="672.9" cy="455.5" r="2.6" fill="#b01c22"/><circle cx="680.1" cy="473.9" r="2.6" fill="#b01c22"/><circle cx="687.0" cy="474.7" r="2.6" fill="#b01c22"/><circle cx="694.2" cy="476.0" r="2.6" fill="#b01c22"/><circle cx="701.1" cy="476.5" r="2.6" fill="#b01c22"/><circle cx="708.3" cy="476.5" r="2.6" fill="#b01c22"/><circle cx="715.2" cy="476.5" r="2.6" fill="#b01c22"/><circle cx="722.1" cy="478.5" r="2.6" fill="#b01c22"/><circle cx="729.3" cy="480.6" r="2.6" fill="#b01c22"/><circle cx="736.4" cy="482.4" r="2.6" fill="#b01c22"/><circle cx="743.3" cy="483.7" r="2.6" fill="#b01c22"/><circle cx="750.3" cy="485.7" r="2.6" fill="#b01c22"/><circle cx="756.9" cy="490.8" r="2.6" fill="#b01c22"/><polyline points="342.0,463.4 370.7,464.0 378.4,474.9 385.0,472.9 392.6,467.2 405.4,482.0 417.0,479.5 427.0,477.0 441.3,474.0 452.8,476.2 482.3,478.8 497.7,459.5 506.7,466.0 519.5,468.0 532.0,470.3 550.0,472.2 557.7,476.0 566.6,482.4 574.3,478.0 583.3,483.7 591.0,486.2 602.5,479.8 611.5,479.8 626.8,476.5 644.7,483.7 651.9,467.0 666.5,473.4 679.3,470.3 688.3,470.9 701.1,468.3 707.5,482.4 715.2,481.1 722.1,455.5 729.3,454.2 754.9,452.4 758.0,451.6" fill="none" stroke="#ffa000" stroke-width="2.5" stroke-linejoin="round" /></g><line x1="343" y1="438.5" x2="758" y2="438.5" stroke="#000" stroke-width="1" stroke-dasharray="2,2" shape-rendering="crispEdges"/><line x1="343" y1="457.5" x2="758" y2="457.5" stroke="#000" stroke-width="1" stroke-dasharray="2,2" shape-rendering="crispEdges"/><line x1="343" y1="477.5" x2="758" y2="477.5" stroke="#000" stroke-width="1" stroke-dasharray="2,2" shape-rendering="crispEdges"/><line x1="343" y1="496.5" x2="758" y2="496.5" stroke="#000" stroke-width="1" stroke-dasharray="2,2" shape-rendering="crispEdges"/><line x1="343" y1="516.5" x2="758" y2="516.5" stroke="#000" stroke-width="1" stroke-dasharray="2,2" shape-rendering="crispEdges"/><line x1="356.5" y1="438" x2="356.5" y2="517" stroke="#000" stroke-width="1" stroke-dasharray="2,2" shape-rendering="crispEdges"/><line x1="377.5" y1="438" x2="377.5" y2="517" stroke="#000" stroke-width="1" stroke-dasharray="2,2" shape-rendering="crispEdges"/><line x1="398.5" y1="438" x2="398.5" y2="517" stroke="#000" stroke-width="1" stroke-dasharray="2,2" shape-rendering="crispEdges"/><line x1="419.5" y1="438" x2="419.5" y2="517" stroke="#000" stroke-width="1" stroke-dasharray="2,2" shape-rendering="crispEdges"/><line x1="441.5" y1="438" x2="441.5" y2="517" stroke="#000" stroke-width="1" stroke-dasharray="2,2" shape-rendering="crispEdges"/><line x1="462.5" y1="438" x2="462.5" y2="517" stroke="#000" stroke-width="1" stroke-dasharray="2,2" shape-rendering="crispEdges"/><line x1="483.5" y1="438" x2="483.5" y2="517" stroke="#000" stroke-width="1" stroke-dasharray="2,2" shape-rendering="crispEdges"/><line x1="504.5" y1="438" x2="504.5" y2="517" stroke="#000" stroke-width="1" stroke-dasharray="2,2" shape-rendering="crispEdges"/><line x1="525.5" y1="438" x2="525.5" y2="517" stroke="#000" stroke-width="1" stroke-dasharray="2,2" shape-rendering="crispEdges"/><line x1="546.5" y1="438" x2="546.5" y2="517" stroke="#000" stroke-width="1" stroke-dasharray="2,2" shape-rendering="crispEdges"/><line x1="567.5" y1="438" x2="567.5" y2="517" stroke="#000" stroke-width="1" stroke-dasharray="2,2" shape-rendering="crispEdges"/><line x1="589.5" y1="438" x2="589.5" y2="517" stroke="#000" stroke-width="1" stroke-dasharray="2,2" shape-rendering="crispEdges"/><line x1="610.5" y1="438" x2="610.5" y2="517" stroke="#000" stroke-width="1" stroke-dasharray="2,2" shape-rendering="crispEdges"/><line x1="631.5" y1="438" x2="631.5" y2="517" stroke="#000" stroke-width="1" stroke-dasharray="2,2" shape-rendering="crispEdges"/><line x1="652.5" y1="438" x2="652.5" y2="517" stroke="#000" stroke-width="1" stroke-dasharray="2,2" shape-rendering="crispEdges"/><line x1="673.5" y1="438" x2="673.5" y2="517" stroke="#000" stroke-width="1" stroke-dasharray="2,2" shape-rendering="crispEdges"/><line x1="694.5" y1="438" x2="694.5" y2="517" stroke="#000" stroke-width="1" stroke-dasharray="2,2" shape-rendering="crispEdges"/><line x1="715.5" y1="438" x2="715.5" y2="517" stroke="#000" stroke-width="1" stroke-dasharray="2,2" shape-rendering="crispEdges"/><line x1="736.5" y1="438" x2="736.5" y2="517" stroke="#000" stroke-width="1" stroke-dasharray="2,2" shape-rendering="crispEdges"/><rect x="342.5" y="437.5" width="416" height="80" fill="none" stroke="#000" stroke-width="1" shape-rendering="crispEdges"/><g clip-path="url(#rcc)"><rect x="342" y="525" width="416" height="79" fill="#87cefa" /><rect x="393" y="525" width="117" height="79" fill="#7ebeeb" /><rect x="562.5" y="525" width="116.5" height="79" fill="#7ebeeb" /><rect x="731.5" y="525" width="26.5" height="79" fill="#7ebeeb" /><polygon points="342.0,567.4 350.2,564.8 354.0,550.7 358.0,535.4 364.3,526.4 370.0,525.0 500.0,525.0 504.0,527.0 509.0,525.0 600.0,525.0 616.7,537.4 627.0,527.7 637.0,526.4 652.6,535.4 665.4,527.2 680.8,536.7 686.0,527.7 701.3,538.5 709.0,527.2 716.7,530.3 729.5,548.2 737.0,567.4 747.4,576.4 758.0,583.0 758.0,605.0 342.0,605.0" fill="#555555" stroke="none" stroke-width="0" /><polygon points="342.0,600.0 360.0,596.0 383.5,604.0 391.2,582.7 401.5,586.6 409.1,581.5 419.4,585.3 432.2,581.5 445.0,583.0 460.0,588.0 480.0,585.0 500.0,572.0 515.0,568.6 530.0,575.0 550.0,580.2 575.6,582.7 585.8,581.5 600.0,585.0 615.0,590.0 629.4,584.0 638.3,545.6 647.3,571.2 660.0,575.0 668.0,573.8 683.0,581.5 689.6,596.8 693.4,603.2 698.5,599.4 711.3,590.4 724.1,598.1 744.6,602.0 758.0,603.0 758.0,605.0 342.0,605.0" fill="#3c3c3c" stroke="none" stroke-width="0" /><polyline points="342.0,575.0 349.0,573.3 355.4,579.5 365.6,585.4 378.5,591.8 391.3,594.9 404.0,597.0 417.0,597.4 432.3,587.2 447.7,594.4 463.0,595.6 478.5,594.4 488.7,589.2 504.0,581.5 519.5,576.9 534.9,580.2 550.0,582.8 560.2,582.8 570.5,586.6 583.3,582.8 591.0,587.9 601.2,594.3 614.0,601.4 626.8,602.5 642.2,601.4 660.0,602.0 667.0,598.0 675.0,599.5 690.0,603.0 758.0,604.0" fill="none" stroke="#ffffff" stroke-width="1.2" stroke-linejoin="round" /><rect x="342.3" y="588.6" width="3" height="15.399999999999977" fill="#ffb400" /><rect x="348.2" y="594.3" width="3" height="9.700000000000045" fill="#ffb400" /><line x1="349.7" y1="596.3" x2="349.7" y2="604" stroke="#3c3c3c" stroke-width="1" stroke-dasharray="2,2"/><rect x="355.1" y="599.4" width="3" height="4.600000000000023" fill="#ffb400" /><rect x="362.1" y="600.7" width="3" height="3.2999999999999545" fill="#ffb400" /><rect x="369.2" y="601.9" width="3" height="2.1000000000000227" fill="#ffb400" /><rect x="376.4" y="598.9" width="3" height="5.100000000000023" fill="#ffb400" /><line x1="377.9" y1="600.9" x2="377.9" y2="604" stroke="#3c3c3c" stroke-width="1" stroke-dasharray="2,2"/><rect x="383.3" y="596.8" width="3" height="7.2000000000000455" fill="#ffb400" /><rect x="390.2" y="594.3" width="3" height="9.700000000000045" fill="#ffb400" /><rect x="396.9" y="591.7" width="3" height="12.299999999999955" fill="#ffb400" /><rect x="404.3" y="587.9" width="3" height="16.100000000000023" fill="#ffb400" /><line x1="405.8" y1="589.9" x2="405.8" y2="604" stroke="#3c3c3c" stroke-width="1" stroke-dasharray="2,2"/><rect x="411.5" y="584.5" width="3" height="19.5" fill="#ffb400" /><rect x="418.4" y="585.3" width="3" height="18.700000000000045" fill="#ffb400" /><rect x="425.6" y="585.3" width="3" height="18.700000000000045" fill="#ffb400" /><rect x="432.5" y="584.5" width="3" height="19.5" fill="#ffb400" /><line x1="434" y1="586.5" x2="434" y2="604" stroke="#3c3c3c" stroke-width="1" stroke-dasharray="2,2"/><rect x="439.7" y="587.1" width="3" height="16.899999999999977" fill="#ffb400" /><rect x="446.6" y="588.6" width="3" height="15.399999999999977" fill="#ffb400" /><rect x="453.7" y="586.1" width="3" height="17.899999999999977" fill="#ffb400" /><rect x="460.9" y="585.3" width="3" height="18.700000000000045" fill="#ffb400" /><line x1="462.4" y1="587.3" x2="462.4" y2="604" stroke="#3c3c3c" stroke-width="1" stroke-dasharray="2,2"/><rect x="467.8" y="585.3" width="3" height="18.700000000000045" fill="#ffb400" /><rect x="474.7" y="586.1" width="3" height="17.899999999999977" fill="#ffb400" /><rect x="481.9" y="585.3" width="3" height="18.700000000000045" fill="#ffb400" /><rect x="489.1" y="584.5" width="3" height="19.5" fill="#ffb400" /><line x1="490.6" y1="586.5" x2="490.6" y2="604" stroke="#3c3c3c" stroke-width="1" stroke-dasharray="2,2"/><rect x="496.0" y="584.5" width="3" height="19.5" fill="#ffb400" /><rect x="502.9" y="581.5" width="3" height="22.5" fill="#ffb400" /><rect x="510.1" y="580.4" width="3" height="23.600000000000023" fill="#ffb400" /><rect x="517.0" y="583.5" width="3" height="20.5" fill="#ffb400" /><line x1="518.5" y1="585.5" x2="518.5" y2="604" stroke="#3c3c3c" stroke-width="1" stroke-dasharray="2,2"/><rect x="523.4" y="588.6" width="3" height="15.399999999999977" fill="#ffb400" /><rect x="530.6" y="586.1" width="3" height="17.899999999999977" fill="#ffb400" /><rect x="537.7" y="589.1" width="3" height="14.899999999999977" fill="#ffb400" /><rect x="544.6" y="588.6" width="3" height="15.399999999999977" fill="#ffb400" /><line x1="546.1" y1="590.6" x2="546.1" y2="604" stroke="#3c3c3c" stroke-width="1" stroke-dasharray="2,2"/><rect x="551.6" y="589.1" width="3" height="14.899999999999977" fill="#ffb400" /><rect x="558.7" y="579.4" width="3" height="24.600000000000023" fill="#ffb400" /><rect x="565.9" y="575.8" width="3" height="28.200000000000045" fill="#ffb400" /><rect x="572.8" y="575.1" width="3" height="28.899999999999977" fill="#ffb400" /><line x1="574.3" y1="577.1" x2="574.3" y2="604" stroke="#3c3c3c" stroke-width="1" stroke-dasharray="2,2"/><rect x="579.7" y="574.3" width="3" height="29.700000000000045" fill="#ffb400" /><rect x="586.9" y="569.2" width="3" height="34.799999999999955" fill="#ffb400" /><rect x="594.1" y="568.1" width="3" height="35.89999999999998" fill="#ffb400" /><rect x="601.0" y="574.3" width="3" height="29.700000000000045" fill="#ffb400" /><line x1="602.5" y1="576.3" x2="602.5" y2="604" stroke="#3c3c3c" stroke-width="1" stroke-dasharray="2,2"/><rect x="607.9" y="573.3" width="3" height="30.700000000000045" fill="#ffb400" /><rect x="615.1" y="575.1" width="3" height="28.899999999999977" fill="#ffb400" /><rect x="622.3" y="574.3" width="3" height="29.700000000000045" fill="#ffb400" /><rect x="629.2" y="578.4" width="3" height="25.600000000000023" fill="#ffb400" /><line x1="630.7" y1="580.4" x2="630.7" y2="604" stroke="#3c3c3c" stroke-width="1" stroke-dasharray="2,2"/><rect x="636.1" y="558.4" width="3" height="45.60000000000002" fill="#ffb400" /><rect x="643.2" y="558.4" width="3" height="45.60000000000002" fill="#ffb400" /><rect x="650.2" y="589.1" width="3" height="14.899999999999977" fill="#ffb400" /><rect x="657.3" y="583.5" width="3" height="20.5" fill="#ffb400" /><line x1="658.8" y1="585.5" x2="658.8" y2="604" stroke="#3c3c3c" stroke-width="1" stroke-dasharray="2,2"/><rect x="665.0" y="585.3" width="3" height="18.700000000000045" fill="#ffb400" /><rect x="671.9" y="587.9" width="3" height="16.100000000000023" fill="#ffb400" /><rect x="679.1" y="589.7" width="3" height="14.299999999999955" fill="#ffb400" /><rect x="686.3" y="596.1" width="3" height="7.899999999999977" fill="#ffb400" /><line x1="687.8" y1="598.1" x2="687.8" y2="604" stroke="#3c3c3c" stroke-width="1" stroke-dasharray="2,2"/><rect x="693.2" y="601.4" width="3" height="2.6000000000000227" fill="#ffb400" /></g><line x1="343" y1="525.5" x2="758" y2="525.5" stroke="#000" stroke-width="1" stroke-dasharray="2,2" shape-rendering="crispEdges"/><line x1="343" y1="545.5" x2="758" y2="545.5" stroke="#000" stroke-width="1" stroke-dasharray="2,2" shape-rendering="crispEdges"/><line x1="343" y1="565.5" x2="758" y2="565.5" stroke="#000" stroke-width="1" stroke-dasharray="2,2" shape-rendering="crispEdges"/><line x1="343" y1="584.5" x2="758" y2="584.5" stroke="#000" stroke-width="1" stroke-dasharray="2,2" shape-rendering="crispEdges"/><line x1="356.5" y1="526" x2="356.5" y2="604" stroke="#000" stroke-width="1" stroke-dasharray="2,2" shape-rendering="crispEdges"/><line x1="377.5" y1="526" x2="377.5" y2="604" stroke="#000" stroke-width="1" stroke-dasharray="2,2" shape-rendering="crispEdges"/><line x1="398.5" y1="526" x2="398.5" y2="604" stroke="#000" stroke-width="1" stroke-dasharray="2,2" shape-rendering="crispEdges"/><line x1="419.5" y1="526" x2="419.5" y2="604" stroke="#000" stroke-width="1" stroke-dasharray="2,2" shape-rendering="crispEdges"/><line x1="441.5" y1="526" x2="441.5" y2="604" stroke="#000" stroke-width="1" stroke-dasharray="2,2" shape-rendering="crispEdges"/><line x1="462.5" y1="526" x2="462.5" y2="604" stroke="#000" stroke-width="1" stroke-dasharray="2,2" shape-rendering="crispEdges"/><line x1="483.5" y1="526" x2="483.5" y2="604" stroke="#000" stroke-width="1" stroke-dasharray="2,2" shape-rendering="crispEdges"/><line x1="504.5" y1="526" x2="504.5" y2="604" stroke="#000" stroke-width="1" stroke-dasharray="2,2" shape-rendering="crispEdges"/><line x1="525.5" y1="526" x2="525.5" y2="604" stroke="#000" stroke-width="1" stroke-dasharray="2,2" shape-rendering="crispEdges"/><line x1="546.5" y1="526" x2="546.5" y2="604" stroke="#000" stroke-width="1" stroke-dasharray="2,2" shape-rendering="crispEdges"/><line x1="567.5" y1="526" x2="567.5" y2="604" stroke="#000" stroke-width="1" stroke-dasharray="2,2" shape-rendering="crispEdges"/><line x1="589.5" y1="526" x2="589.5" y2="604" stroke="#000" stroke-width="1" stroke-dasharray="2,2" shape-rendering="crispEdges"/><line x1="610.5" y1="526" x2="610.5" y2="604" stroke="#000" stroke-width="1" stroke-dasharray="2,2" shape-rendering="crispEdges"/><line x1="631.5" y1="526" x2="631.5" y2="604" stroke="#000" stroke-width="1" stroke-dasharray="2,2" shape-rendering="crispEdges"/><line x1="652.5" y1="526" x2="652.5" y2="604" stroke="#000" stroke-width="1" stroke-dasharray="2,2" shape-rendering="crispEdges"/><line x1="673.5" y1="526" x2="673.5" y2="604" stroke="#000" stroke-width="1" stroke-dasharray="2,2" shape-rendering="crispEdges"/><line x1="694.5" y1="526" x2="694.5" y2="604" stroke="#000" stroke-width="1" stroke-dasharray="2,2" shape-rendering="crispEdges"/><line x1="715.5" y1="526" x2="715.5" y2="604" stroke="#000" stroke-width="1" stroke-dasharray="2,2" shape-rendering="crispEdges"/><line x1="736.5" y1="526" x2="736.5" y2="604" stroke="#000" stroke-width="1" stroke-dasharray="2,2" shape-rendering="crispEdges"/><rect x="342.5" y="525.5" width="416" height="79" fill="none" stroke="#000" stroke-width="1" shape-rendering="crispEdges"/><g clip-path="url(#ltemp)"><rect x="135" y="57" width="110" height="77" fill="#ffffff" /><rect x="170" y="57" width="62" height="77" fill="#eef4fd" /><rect x="135" y="111.7" width="110" height="22.299999999999997" fill="#87cefa" /><rect x="170" y="111.7" width="62" height="22.299999999999997" fill="#7ebeeb" /><polygon points="135.5,88.8 143.2,89.6 156.3,94.0 171.0,101.3 185.6,106.0 206.0,108.0 226.6,110.0 246.0,104.0 246.0,114.0 241.2,116.5 232.4,122.3 226.6,118.7 206.0,117.6 185.6,116.5 171.0,114.3 156.3,107.0 143.2,102.6 135.5,101.8" fill="#ffe6dc" stroke="none" stroke-width="0" /><polygon points="135.5,101.5 144.6,103.0 156.3,107.3 171.0,110.7 185.6,114.0 206.0,117.6 217.8,117.6 225.1,119.8 232.4,122.7 239.8,115.4 246.0,114.7 246.0,124.0 232.4,131.0 220.0,130.0 205.0,127.0 190.0,122.0 171.0,117.0 156.0,113.0 135.5,109.0" fill="#bfe4fb" stroke="none" stroke-width="0" /><polyline points="135.5,102.5 144.6,104.0 156.3,108.3 171.0,111.7 185.6,115.0 206.0,118.6 217.8,118.6 225.1,120.8 232.4,123.7 239.8,116.4 246.0,115.7" fill="none" stroke="#0a14f0" stroke-width="3" stroke-linejoin="round" /><polyline points="135.5,98.8 143.2,99.6 156.3,104.0 171.0,111.3 185.6,113.5 206.0,114.6 226.6,115.7 232.4,119.3 241.2,113.5 246.0,111.0" fill="none" stroke="#ff0000" stroke-width="3" stroke-linejoin="round" /><line x1="143.2" y1="71" x2="143.2" y2="81.3" stroke="#a8141e" stroke-width="1.2" /><line x1="149.5" y1="77.6" x2="149.5" y2="84.9" stroke="#a8141e" stroke-width="1.2" /><line x1="156.3" y1="87.1" x2="156.3" y2="98.8" stroke="#a8141e" stroke-width="1.2" /><line x1="163.4" y1="95.9" x2="163.4" y2="106.1" stroke="#a8141e" stroke-width="1.2" /><line x1="170.2" y1="100.3" x2="170.2" y2="113.5" stroke="#a8141e" stroke-width="1.2" /><line x1="177.3" y1="102.5" x2="177.3" y2="118.6" stroke="#a8141e" stroke-width="1.2" /><line x1="184.9" y1="104.7" x2="184.9" y2="120.8" stroke="#a8141e" stroke-width="1.2" /><line x1="191.5" y1="107.3" x2="191.5" y2="123.7" stroke="#a8141e" stroke-width="1.2" /><line x1="198.5" y1="108.3" x2="198.5" y2="125.9" stroke="#a8141e" stroke-width="1.2" /><line x1="205.4" y1="109.8" x2="205.4" y2="128.8" stroke="#a8141e" stroke-width="1.2" /><line x1="212.2" y1="109.1" x2="212.2" y2="129.6" stroke="#a8141e" stroke-width="1.2" /><line x1="219.3" y1="110.5" x2="219.3" y2="130.3" stroke="#a8141e" stroke-width="1.2" /><line x1="226.6" y1="110.5" x2="226.6" y2="132.5" stroke="#a8141e" stroke-width="1.2" /><line x1="233.2" y1="111.3" x2="233.2" y2="134" stroke="#a8141e" stroke-width="1.2" /><line x1="240.8" y1="106.1" x2="240.8" y2="125.9" stroke="#a8141e" stroke-width="1.2" /><rect x="141.0" y="111.9" width="3.2" height="3.2" fill="#7a6ae6" /><rect x="148.0" y="111.9" width="3.2" height="3.2" fill="#7a6ae6" /><rect x="155.0" y="111.9" width="3.2" height="3.2" fill="#7a6ae6" /><rect x="162.0" y="111.9" width="3.2" height="3.2" fill="#7a6ae6" /><rect x="169.0" y="112.4" width="3.2" height="3.2" fill="#7a6ae6" /><rect x="176.0" y="113.4" width="3.2" height="3.2" fill="#7a6ae6" /><rect x="183.0" y="115.4" width="3.2" height="3.2" fill="#7a6ae6" /><rect x="190.0" y="116.9" width="3.2" height="3.2" fill="#7a6ae6" /><rect x="197.0" y="117.4" width="3.2" height="3.2" fill="#7a6ae6" /><rect x="204.0" y="118.4" width="3.2" height="3.2" fill="#7a6ae6" /><rect x="211.0" y="119.4" width="3.2" height="3.2" fill="#7a6ae6" /><rect x="218.0" y="119.4" width="3.2" height="3.2" fill="#7a6ae6" /><rect x="225.0" y="120.4" width="3.2" height="3.2" fill="#7a6ae6" /><rect x="232.0" y="121.4" width="3.2" height="3.2" fill="#7a6ae6" /><rect x="239.0" y="119.4" width="3.2" height="3.2" fill="#7a6ae6" /></g><line x1="136" y1="59.5" x2="245" y2="59.5" stroke="#000" stroke-width="1" stroke-dasharray="2,2" shape-rendering="crispEdges"/><line x1="136" y1="77.5" x2="245" y2="77.5" stroke="#000" stroke-width="1" stroke-dasharray="2,2" shape-rendering="crispEdges"/><line x1="136" y1="94.5" x2="245" y2="94.5" stroke="#000" stroke-width="1" stroke-dasharray="2,2" shape-rendering="crispEdges"/><line x1="136" y1="111.5" x2="245" y2="111.5" stroke="#000" stroke-width="1" stroke-dasharray="2,2" shape-rendering="crispEdges"/><line x1="136" y1="129.5" x2="245" y2="129.5" stroke="#000" stroke-width="1" stroke-dasharray="2,2" shape-rendering="crispEdges"/><line x1="142.5" y1="58" x2="142.5" y2="134" stroke="#000" stroke-width="1" stroke-dasharray="2,2" shape-rendering="crispEdges"/><line x1="163.5" y1="58" x2="163.5" y2="134" stroke="#000" stroke-width="1" stroke-dasharray="2,2" shape-rendering="crispEdges"/><line x1="184.5" y1="58" x2="184.5" y2="134" stroke="#000" stroke-width="1" stroke-dasharray="2,2" shape-rendering="crispEdges"/><line x1="205.5" y1="58" x2="205.5" y2="134" stroke="#000" stroke-width="1" stroke-dasharray="2,2" shape-rendering="crispEdges"/><line x1="226.5" y1="58" x2="226.5" y2="134" stroke="#000" stroke-width="1" stroke-dasharray="2,2" shape-rendering="crispEdges"/><rect x="135.5" y="57.5" width="110" height="77" fill="none" stroke="#000" stroke-width="1" shape-rendering="crispEdges"/><g clip-path="url(#lprec)"><rect x="135" y="143" width="110" height="77" fill="#ffffff" /><rect x="170" y="143" width="62" height="77" fill="#eef4fd" /><rect x="135.5" y="187" width="7.5" height="34" fill="#14a014" /><rect x="143" y="181.2" width="6" height="39.80000000000001" fill="#14a014" /><rect x="149" y="179.4" width="8" height="41.599999999999994" fill="#14a014" /><rect x="157" y="201.7" width="7" height="19.30000000000001" fill="#14a014" /><rect x="164" y="208" width="6" height="13" fill="#14a014" /><rect x="170" y="218" width="7" height="3" fill="#14a014" /><rect x="157" y="181.9" width="7" height="19.8" fill="#0a28d8" /><rect x="164" y="205" width="6" height="3" fill="#0a28d8" /></g><line x1="136" y1="150.5" x2="245" y2="150.5" stroke="#000" stroke-width="1" stroke-dasharray="2,2" shape-rendering="crispEdges"/><line x1="136" y1="168.5" x2="245" y2="168.5" stroke="#000" stroke-width="1" stroke-dasharray="2,2" shape-rendering="crispEdges"/><line x1="136" y1="185.5" x2="245" y2="185.5" stroke="#000" stroke-width="1" stroke-dasharray="2,2" shape-rendering="crispEdges"/><line x1="136" y1="203.5" x2="245" y2="203.5" stroke="#000" stroke-width="1" stroke-dasharray="2,2" shape-rendering="crispEdges"/><line x1="142.5" y1="144" x2="142.5" y2="220" stroke="#000" stroke-width="1" stroke-dasharray="2,2" shape-rendering="crispEdges"/><line x1="163.5" y1="144" x2="163.5" y2="220" stroke="#000" stroke-width="1" stroke-dasharray="2,2" shape-rendering="crispEdges"/><line x1="184.5" y1="144" x2="184.5" y2="220" stroke="#000" stroke-width="1" stroke-dasharray="2,2" shape-rendering="crispEdges"/><line x1="205.5" y1="144" x2="205.5" y2="220" stroke="#000" stroke-width="1" stroke-dasharray="2,2" shape-rendering="crispEdges"/><line x1="226.5" y1="144" x2="226.5" y2="220" stroke="#000" stroke-width="1" stroke-dasharray="2,2" shape-rendering="crispEdges"/><line x1="139.5" y1="165" x2="139.5" y2="187" stroke="#10c010" stroke-width="1" /><line x1="146.5" y1="147" x2="146.5" y2="187" stroke="#10c010" stroke-width="1" /><line x1="153.5" y1="147" x2="153.5" y2="187" stroke="#10c010" stroke-width="1" /><g clip-path="url(#lprec)"><polyline points="135.5,172.4 144.6,165.8 150.5,158.5 156.3,155.3 165.1,152.6 184.1,152.6 191.5,149.0 198.8,149.4 204.6,154.4 212.0,155.6 219.3,151.9 225.1,149.7 232.4,151.2 239.8,156.3 245.6,164.3" fill="none" stroke="#e8481a" stroke-width="2.6" stroke-linejoin="round" /></g><circle cx="140.0" cy="173.5" r="3.3" fill="#ffee00" stroke="#303030" stroke-width="0.8"/><circle cx="146.9" cy="173.5" r="3.3" fill="#ffa000" stroke="#303030" stroke-width="0.8"/><circle cx="153.9" cy="173.5" r="3.3" fill="#ff1010" stroke="#303030" stroke-width="0.8"/><rect x="145.4" y="146" width="3" height="3" fill="#ff1010" /><rect x="152.4" y="146" width="3" height="3" fill="#ff1010" /><rect x="138" y="218.5" width="3" height="2" fill="#e02020" /><rect x="145" y="218.5" width="3" height="2" fill="#e02020" /><rect x="152" y="218.5" width="3" height="2" fill="#e02020" /><rect x="159" y="218.5" width="3" height="2" fill="#e02020" /><rect x="166" y="218.5" width="3" height="2" fill="#e02020" /><rect x="135.5" y="143.5" width="110" height="77" fill="none" stroke="#000" stroke-width="1" shape-rendering="crispEdges"/><g clip-path="url(#lpres)"><rect x="135" y="229" width="110" height="77" fill="#ffffff" /><rect x="170" y="229" width="62" height="77" fill="#eef4fd" /><polygon points="135.5,259.9 143.2,259.6 150.5,253.3 157.8,249.2 165.1,248.9 170.7,245.2 176.8,248.1 184.1,250.0 191.5,253.7 225.1,253.7 232.4,257.4 246.0,265.3 246.0,307.0 135.0,307.0" fill="#ffff00" stroke="none" stroke-width="0" /><clipPath id="lpf"><polygon points="135.5,259.9 143.2,259.6 150.5,253.3 157.8,249.2 165.1,248.9 170.7,245.2 176.8,248.1 184.1,250.0 191.5,253.7 225.1,253.7 232.4,257.4 246.0,265.3 246.0,307.0 135.0,307.0"/></clipPath><g clip-path="url(#lpf)"><rect x="165" y="229" width="5" height="77" fill="#ffd700" /></g></g><line x1="136" y1="231.5" x2="245" y2="231.5" stroke="#000" stroke-width="1" stroke-dasharray="2,2" shape-rendering="crispEdges"/><line x1="136" y1="254.5" x2="245" y2="254.5" stroke="#000" stroke-width="1" stroke-dasharray="2,2" shape-rendering="crispEdges"/><line x1="136" y1="278.5" x2="245" y2="278.5" stroke="#000" stroke-width="1" stroke-dasharray="2,2" shape-rendering="crispEdges"/><line x1="136" y1="301.5" x2="245" y2="301.5" stroke="#000" stroke-width="1" stroke-dasharray="2,2" shape-rendering="crispEdges"/><line x1="142.5" y1="230" x2="142.5" y2="306" stroke="#000" stroke-width="1" stroke-dasharray="2,2" shape-rendering="crispEdges"/><line x1="163.5" y1="230" x2="163.5" y2="306" stroke="#000" stroke-width="1" stroke-dasharray="2,2" shape-rendering="crispEdges"/><line x1="184.5" y1="230" x2="184.5" y2="306" stroke="#000" stroke-width="1" stroke-dasharray="2,2" shape-rendering="crispEdges"/><line x1="205.5" y1="230" x2="205.5" y2="306" stroke="#000" stroke-width="1" stroke-dasharray="2,2" shape-rendering="crispEdges"/><line x1="226.5" y1="230" x2="226.5" y2="306" stroke="#000" stroke-width="1" stroke-dasharray="2,2" shape-rendering="crispEdges"/><polyline points="135.5,259.9 143.2,259.6 150.5,253.3 157.8,249.2 165.1,248.9 170.7,245.2 176.8,248.1 184.1,250.0 191.5,253.7 225.1,253.7 232.4,257.4 246.0,265.3" fill="none" stroke="#000" stroke-width="2.5" stroke-linejoin="round" /><rect x="135.5" y="229.5" width="110" height="77" fill="none" stroke="#000" stroke-width="1" shape-rendering="crispEdges"/><g clip-path="url(#lwind)"><rect x="135" y="315" width="110" height="77" fill="#ffffff" /><rect x="170" y="315" width="62" height="77" fill="#eef4fd" /><clipPath id="lwf"><polygon points="135.5,364.4 141.7,367.8 150.5,370.7 165.1,373.2 173.9,374.8 184.1,375.1 197.3,372.9 225.1,372.6 232.4,370.7 239.8,369.7 246.0,369.3 246.0,393.0 135.0,393.0"/></clipPath><g clip-path="url(#lwf)"><rect x="135" y="315" width="13" height="77" fill="#12c812" /><rect x="148" y="315" width="21" height="77" fill="#007800" /><rect x="169" y="315" width="28" height="77" fill="#0f4c8a" /><rect x="197" y="315" width="14" height="77" fill="#007800" /><rect x="211" y="315" width="14" height="77" fill="#0f4c8a" /><rect x="225" y="315" width="14" height="77" fill="#007800" /><rect x="239" y="315" width="7" height="77" fill="#12c812" /></g></g><line x1="136" y1="334.5" x2="245" y2="334.5" stroke="#000" stroke-width="1" stroke-dasharray="2,2" shape-rendering="crispEdges"/><line x1="136" y1="354.5" x2="245" y2="354.5" stroke="#000" stroke-width="1" stroke-dasharray="2,2" shape-rendering="crispEdges"/><line x1="136" y1="373.5" x2="245" y2="373.5" stroke="#000" stroke-width="1" stroke-dasharray="2,2" shape-rendering="crispEdges"/><line x1="142.5" y1="316" x2="142.5" y2="392" stroke="#000" stroke-width="1" stroke-dasharray="2,2" shape-rendering="crispEdges"/><line x1="163.5" y1="316" x2="163.5" y2="392" stroke="#000" stroke-width="1" stroke-dasharray="2,2" shape-rendering="crispEdges"/><line x1="184.5" y1="316" x2="184.5" y2="392" stroke="#000" stroke-width="1" stroke-dasharray="2,2" shape-rendering="crispEdges"/><line x1="205.5" y1="316" x2="205.5" y2="392" stroke="#000" stroke-width="1" stroke-dasharray="2,2" shape-rendering="crispEdges"/><line x1="226.5" y1="316" x2="226.5" y2="392" stroke="#000" stroke-width="1" stroke-dasharray="2,2" shape-rendering="crispEdges"/><line x1="143.2" y1="340.5" x2="149" y2="340.5" stroke="#ff0000" stroke-width="1.2" /><line x1="148.3" y1="348.5" x2="161.5" y2="348.5" stroke="#ff0000" stroke-width="1.2" /><line x1="162" y1="351.5" x2="169.5" y2="351.5" stroke="#ff0000" stroke-width="1.2" /><line x1="170.2" y1="355.5" x2="176.8" y2="355.5" stroke="#ff0000" stroke-width="1.2" /><line x1="176" y1="358.5" x2="184.9" y2="358.5" stroke="#ff0000" stroke-width="1.2" /><line x1="184" y1="354.5" x2="189" y2="354.5" stroke="#ff0000" stroke-width="1.2" /><line x1="190" y1="351.5" x2="197.3" y2="351.5" stroke="#ff0000" stroke-width="1.2" /><line x1="197.3" y1="350.5" x2="210.5" y2="350.5" stroke="#ff0000" stroke-width="1.2" /><line x1="211.2" y1="351.5" x2="225.1" y2="351.5" stroke="#ff0000" stroke-width="1.2" /><line x1="225.9" y1="348.5" x2="232.4" y2="348.5" stroke="#ff0000" stroke-width="1.2" /><line x1="232.4" y1="343.5" x2="239.8" y2="343.5" stroke="#ff0000" stroke-width="1.2" /><line x1="239.8" y1="342.5" x2="245.6" y2="342.5" stroke="#ff0000" stroke-width="1.2" /><polyline points="135.5,364.4 141.7,367.8 150.5,370.7 165.1,373.2 173.9,374.8 184.1,375.1 197.3,372.9 225.1,372.6 232.4,370.7 239.8,369.7 246.0,369.3" fill="none" stroke="#000090" stroke-width="2.4" stroke-linejoin="round" /><rect x="135.5" y="315.5" width="110" height="77" fill="none" stroke="#000" stroke-width="1" shape-rendering="crispEdges"/><circle cx="138" cy="317" r="1.6" fill="#ff0000"/><rect x="135" y="399" width="110" height="31" fill="#ffffff" /><rect x="170" y="399" width="62" height="31" fill="#eef4fd" /><line x1="142.5" y1="399" x2="142.5" y2="430" stroke="#000" stroke-width="1" stroke-dasharray="2,2" shape-rendering="crispEdges"/><line x1="163.5" y1="399" x2="163.5" y2="430" stroke="#000" stroke-width="1" stroke-dasharray="2,2" shape-rendering="crispEdges"/><line x1="184.5" y1="399" x2="184.5" y2="430" stroke="#000" stroke-width="1" stroke-dasharray="2,2" shape-rendering="crispEdges"/><line x1="205.5" y1="399" x2="205.5" y2="430" stroke="#000" stroke-width="1" stroke-dasharray="2,2" shape-rendering="crispEdges"/><line x1="226.5" y1="399" x2="226.5" y2="430" stroke="#000" stroke-width="1" stroke-dasharray="2,2" shape-rendering="crispEdges"/><rect x="135.5" y="398.5" width="110" height="32" fill="none" stroke="#000" stroke-width="1" shape-rendering="crispEdges"/><line x1="135.4" y1="415.8" x2="137.9" y2="417.0" stroke="#0a0a96" stroke-width="1.3" /><polygon points="142.6,419.2 136.6,419.7 139.2,414.3" fill="#0a0a96" stroke="none" stroke-width="0" /><line x1="139.4" y1="405.6" x2="142.7" y2="416.4" stroke="#0a0a96" stroke-width="1.3" /><polygon points="144.4,421.8 139.6,417.3 145.9,415.4" fill="#0a0a96" stroke="none" stroke-width="0" /><line x1="146.5" y1="405.6" x2="149.8" y2="416.4" stroke="#0a0a96" stroke-width="1.3" /><polygon points="151.4,421.8 146.6,417.3 152.9,415.4" fill="#0a0a96" stroke="none" stroke-width="0" /><line x1="153.5" y1="405.6" x2="156.8" y2="416.4" stroke="#0a0a96" stroke-width="1.3" /><polygon points="158.5,421.8 153.7,417.3 160.0,415.4" fill="#0a0a96" stroke="none" stroke-width="0" /><line x1="160.6" y1="405.6" x2="163.9" y2="416.4" stroke="#0a0a96" stroke-width="1.3" /><polygon points="165.5,421.8 160.7,417.3 167.0,415.4" fill="#0a0a96" stroke="none" stroke-width="0" /><line x1="167.6" y1="405.6" x2="170.9" y2="416.4" stroke="#0a0a96" stroke-width="1.3" /><polygon points="172.6,421.8 167.8,417.3 174.1,415.4" fill="#0a0a96" stroke="none" stroke-width="0" /><line x1="174.7" y1="405.6" x2="178.0" y2="416.4" stroke="#0a0a96" stroke-width="1.3" /><polygon points="179.6,421.8 174.8,417.3 181.1,415.4" fill="#0a0a96" stroke="none" stroke-width="0" /><line x1="181.7" y1="405.6" x2="185.0" y2="416.4" stroke="#0a0a96" stroke-width="1.3" /><polygon points="186.7,421.8 181.9,417.3 188.2,415.4" fill="#0a0a96" stroke="none" stroke-width="0" /><line x1="188.8" y1="405.6" x2="192.1" y2="416.4" stroke="#0a0a96" stroke-width="1.3" /><polygon points="193.7,421.8 188.9,417.3 195.2,415.4" fill="#0a0a96" stroke="none" stroke-width="0" /><line x1="195.8" y1="405.6" x2="199.1" y2="416.4" stroke="#0a0a96" stroke-width="1.3" /><polygon points="200.8,421.8 196.0,417.3 202.3,415.4" fill="#0a0a96" stroke="none" stroke-width="0" /><line x1="202.9" y1="405.6" x2="206.2" y2="416.4" stroke="#0a0a96" stroke-width="1.3" /><polygon points="207.8,421.8 203.0,417.3 209.3,415.4" fill="#0a0a96" stroke="none" stroke-width="0" /><line x1="209.9" y1="405.6" x2="213.2" y2="416.4" stroke="#0a0a96" stroke-width="1.3" /><polygon points="214.9,421.8 210.1,417.3 216.4,415.4" fill="#0a0a96" stroke="none" stroke-width="0" /><line x1="217.0" y1="405.6" x2="220.3" y2="416.4" stroke="#0a0a96" stroke-width="1.3" /><polygon points="221.9,421.8 217.1,417.3 223.4,415.4" fill="#0a0a96" stroke="none" stroke-width="0" /><line x1="224.0" y1="405.6" x2="227.3" y2="416.4" stroke="#0a0a96" stroke-width="1.3" /><polygon points="229.0,421.8 224.2,417.3 230.5,415.4" fill="#0a0a96" stroke="none" stroke-width="0" /><line x1="231.1" y1="405.6" x2="234.4" y2="416.4" stroke="#0a0a96" stroke-width="1.3" /><polygon points="236.0,421.8 231.2,417.3 237.5,415.4" fill="#0a0a96" stroke="none" stroke-width="0" /><line x1="238.1" y1="405.6" x2="241.4" y2="416.4" stroke="#0a0a96" stroke-width="1.3" /><polygon points="243.1,421.8 238.3,417.3 244.6,415.4" fill="#0a0a96" stroke="none" stroke-width="0" /><line x1="245.2" y1="405.6" x2="248.5" y2="416.4" stroke="#0a0a96" stroke-width="1.3" /><polygon points="250.1,421.8 245.3,417.3 251.6,415.4" fill="#0a0a96" stroke="none" stroke-width="0" /><g clip-path="url(#lcb)"><rect x="135" y="436" width="110" height="78" fill="#87cefa" /><rect x="170" y="436" width="62" height="78" fill="#7ebeeb" /><circle cx="143.5" cy="505.2" r="2.6" fill="#ffffff"/><circle cx="150.5" cy="500.0" r="2.6" fill="#ffffff"/><circle cx="164.4" cy="499.3" r="2.6" fill="#ffffff"/><circle cx="170.2" cy="492.0" r="2.6" fill="#ffffff"/><circle cx="177.6" cy="492.0" r="2.6" fill="#ffffff"/><circle cx="191.5" cy="500.0" r="2.6" fill="#ffffff"/><circle cx="204.6" cy="492.0" r="2.6" fill="#ffffff"/><circle cx="211.2" cy="492.0" r="2.6" fill="#ffffff"/><circle cx="184.4" cy="509.6" r="2.6" fill="#ffffff"/><circle cx="218.5" cy="509.6" r="2.6" fill="#ffffff"/><circle cx="225.1" cy="509.6" r="2.6" fill="#ffffff"/><circle cx="232.4" cy="509.6" r="2.6" fill="#ffffff"/><circle cx="239.5" cy="509.6" r="2.6" fill="#ffffff"/><circle cx="137.3" cy="504.4" r="2.6" fill="#d4d0cc"/><circle cx="170.2" cy="489.1" r="2.6" fill="#d4d0cc"/><circle cx="218.5" cy="500.0" r="2.6" fill="#d4d0cc"/><circle cx="225.1" cy="500.0" r="2.6" fill="#d4d0cc"/><circle cx="239.5" cy="500.0" r="2.6" fill="#d4d0cc"/><circle cx="244.9" cy="500.0" r="2.6" fill="#d4d0cc"/><circle cx="143.5" cy="500.0" r="2.6" fill="#9a9a9a"/><circle cx="177.6" cy="489.1" r="2.6" fill="#9a9a9a"/><circle cx="198.5" cy="484.7" r="2.6" fill="#9a9a9a"/><circle cx="211.2" cy="485.4" r="2.6" fill="#9a9a9a"/><circle cx="232.4" cy="500.0" r="2.6" fill="#9a9a9a"/><circle cx="239.5" cy="494.2" r="2.6" fill="#9a9a9a"/><circle cx="184.4" cy="504.4" r="2.6" fill="#9a9a9a"/><circle cx="143.5" cy="481.0" r="2.6" fill="#555555"/><circle cx="150.5" cy="492.0" r="2.6" fill="#555555"/><circle cx="157.1" cy="492.0" r="2.6" fill="#555555"/><circle cx="164.4" cy="492.0" r="2.6" fill="#555555"/><circle cx="191.5" cy="489.1" r="2.6" fill="#555555"/><circle cx="198.5" cy="468.6" r="2.6" fill="#555555"/><circle cx="211.2" cy="481.0" r="2.6" fill="#555555"/><circle cx="218.5" cy="489.8" r="2.6" fill="#555555"/><circle cx="225.1" cy="492.0" r="2.6" fill="#555555"/><circle cx="232.4" cy="494.2" r="2.6" fill="#555555"/><circle cx="184.4" cy="500.0" r="2.6" fill="#555555"/><circle cx="191.5" cy="456.1" r="2.6" fill="#050505"/><circle cx="198.5" cy="463.9" r="2.6" fill="#050505"/><circle cx="204.6" cy="467.1" r="2.6" fill="#050505"/><circle cx="211.2" cy="470.3" r="2.6" fill="#050505"/><circle cx="218.5" cy="481.5" r="2.6" fill="#050505"/><circle cx="225.1" cy="485.4" r="2.6" fill="#050505"/><circle cx="232.4" cy="489.1" r="2.6" fill="#050505"/><circle cx="239.5" cy="481.5" r="2.6" fill="#050505"/><circle cx="244.9" cy="475.9" r="2.6" fill="#050505"/><circle cx="184.4" cy="489.1" r="2.6" fill="#050505"/><circle cx="150.5" cy="458.3" r="2.6" fill="#b01c22"/><circle cx="157.1" cy="458.3" r="2.6" fill="#b01c22"/><circle cx="164.4" cy="459.8" r="2.6" fill="#b01c22"/><circle cx="170.2" cy="451.0" r="2.6" fill="#b01c22"/><circle cx="177.6" cy="449.6" r="2.6" fill="#b01c22"/><circle cx="184.1" cy="449.6" r="2.6" fill="#b01c22"/><circle cx="191.5" cy="449.6" r="2.6" fill="#b01c22"/><circle cx="198.5" cy="451.0" r="2.6" fill="#b01c22"/><circle cx="204.6" cy="449.6" r="2.6" fill="#b01c22"/><circle cx="211.2" cy="449.6" r="2.6" fill="#b01c22"/><circle cx="218.5" cy="449.6" r="2.6" fill="#b01c22"/><circle cx="225.1" cy="449.6" r="2.6" fill="#b01c22"/><circle cx="232.4" cy="449.6" r="2.6" fill="#b01c22"/><circle cx="239.5" cy="449.6" r="2.6" fill="#b01c22"/><circle cx="244.9" cy="449.6" r="2.6" fill="#b01c22"/><circle cx="137.3" cy="475.2" r="2.6" fill="#b01c22"/><circle cx="143.5" cy="475.2" r="2.6" fill="#b01c22"/><polyline points="135.5,470.8 143.2,471.2 149.0,466.4 159.3,464.2 178.3,463.9 184.1,466.4 194.4,470.3 204.6,471.5 217.8,474.7 232.4,473.7 246.0,469.3" fill="none" stroke="#ffa000" stroke-width="2.5" stroke-linejoin="round" /></g><line x1="136" y1="456.5" x2="245" y2="456.5" stroke="#000" stroke-width="1" stroke-dasharray="2,2" shape-rendering="crispEdges"/><line x1="136" y1="475.5" x2="245" y2="475.5" stroke="#000" stroke-width="1" stroke-dasharray="2,2" shape-rendering="crispEdges"/><line x1="136" y1="495.5" x2="245" y2="495.5" stroke="#000" stroke-width="1" stroke-dasharray="2,2" shape-rendering="crispEdges"/><line x1="142.5" y1="437" x2="142.5" y2="514" stroke="#000" stroke-width="1" stroke-dasharray="2,2" shape-rendering="crispEdges"/><line x1="163.5" y1="437" x2="163.5" y2="514" stroke="#000" stroke-width="1" stroke-dasharray="2,2" shape-rendering="crispEdges"/><line x1="184.5" y1="437" x2="184.5" y2="514" stroke="#000" stroke-width="1" stroke-dasharray="2,2" shape-rendering="crispEdges"/><line x1="205.5" y1="437" x2="205.5" y2="514" stroke="#000" stroke-width="1" stroke-dasharray="2,2" shape-rendering="crispEdges"/><line x1="226.5" y1="437" x2="226.5" y2="514" stroke="#000" stroke-width="1" stroke-dasharray="2,2" shape-rendering="crispEdges"/><rect x="135.5" y="436.5" width="110" height="78" fill="none" stroke="#000" stroke-width="1" shape-rendering="crispEdges"/><g clip-path="url(#lcc)"><rect x="135" y="523" width="110" height="78" fill="#87cefa" /><rect x="170" y="523" width="62" height="78" fill="#7ebeeb" /><polygon points="165.0,602.0 168.8,579.5 173.9,568.5 181.2,564.5 190.0,560.4 194.4,547.3 198.8,545.1 204.6,543.6 209.0,531.9 216.3,526.0 223.7,524.1 232.4,524.1 238.3,534.1 246.0,543.6 246.0,602.0" fill="#ffffff" stroke="none" stroke-width="0" /><polygon points="191.0,602.0 193.4,574.0 197.2,531.6 201.7,532.9 206.2,532.2 210.1,527.7 214.6,525.1 223.6,524.5 246.0,524.5 246.0,602.0" fill="#9a9a9a" stroke="none" stroke-width="0" /><polygon points="135.0,575.4 143.7,563.8 150.5,578.0 163.7,585.3 166.2,589.6 172.7,592.2 177.8,592.8 184.3,569.0 190.7,569.6 192.7,574.0 204.3,594.6 210.7,581.8 215.9,552.2 222.3,538.0 226.2,534.8 231.3,538.0 236.5,545.7 241.6,557.3 246.0,568.0 246.0,602.0 135.0,602.0" fill="#585858" stroke="none" stroke-width="0" /><polygon points="139.0,597.0 149.0,590.5 163.7,601.0 139.0,601.0" fill="#3a3a3a" stroke="none" stroke-width="0" /><polyline points="165.0,601.0 168.8,579.5 173.9,568.5 181.2,564.5 190.0,560.4 194.7,544.5 204.3,542.5 209.5,529.7 214.6,525.8 223.6,524.9 231.3,524.5 239.0,536.7 246.0,545.0" fill="none" stroke="#ffffff" stroke-width="1" stroke-linejoin="round" /><polyline points="186.0,602.0 192.0,574.0" fill="none" stroke="#c8c8c8" stroke-width="1" stroke-linejoin="round" /><polyline points="136.0,590.0 150.0,597.0 160.0,600.0" fill="none" stroke="#aaaaaa" stroke-width="1" stroke-linejoin="round" /><rect x="217.1" y="589.7" width="2.6" height="12" fill="#ffb400" /><rect x="224.4" y="589.7" width="2.6" height="12" fill="#ffb400" /><rect x="231" y="589.7" width="2.6" height="12" fill="#ffb400" /><rect x="238.3" y="589.7" width="2.6" height="12" fill="#ffb400" /><line x1="225.7" y1="591" x2="225.7" y2="602" stroke="#3c3c3c" stroke-width="1" stroke-dasharray="2,2"/></g><line x1="136" y1="543.5" x2="245" y2="543.5" stroke="#000" stroke-width="1" stroke-dasharray="2,2" shape-rendering="crispEdges"/><line x1="136" y1="562.5" x2="245" y2="562.5" stroke="#000" stroke-width="1" stroke-dasharray="2,2" shape-rendering="crispEdges"/><line x1="136" y1="582.5" x2="245" y2="582.5" stroke="#000" stroke-width="1" stroke-dasharray="2,2" shape-rendering="crispEdges"/><line x1="142.5" y1="524" x2="142.5" y2="601" stroke="#000" stroke-width="1" stroke-dasharray="2,2" shape-rendering="crispEdges"/><line x1="163.5" y1="524" x2="163.5" y2="601" stroke="#000" stroke-width="1" stroke-dasharray="2,2" shape-rendering="crispEdges"/><line x1="184.5" y1="524" x2="184.5" y2="601" stroke="#000" stroke-width="1" stroke-dasharray="2,2" shape-rendering="crispEdges"/><line x1="205.5" y1="524" x2="205.5" y2="601" stroke="#000" stroke-width="1" stroke-dasharray="2,2" shape-rendering="crispEdges"/><line x1="226.5" y1="524" x2="226.5" y2="601" stroke="#000" stroke-width="1" stroke-dasharray="2,2" shape-rendering="crispEdges"/><rect x="135.5" y="523.5" width="110" height="78" fill="none" stroke="#000" stroke-width="1" shape-rendering="crispEdges"/><text x="282" y="13" font-size="12.3" fill="#12129a" text-anchor="start" textLength="146" lengthAdjust="spacingAndGlyphs" >wschód słońca: 07:47 CET</text><text x="283.7" y="25.5" font-size="12.3" fill="#12129a" text-anchor="start" textLength="143" lengthAdjust="spacingAndGlyphs" >zachód słońca: 15:14 CET</text><text x="487" y="13" font-size="12.3" fill="#12129a" text-anchor="start" textLength="127.5" lengthAdjust="spacingAndGlyphs" >21°45'49"E, 53°35'57"N</text><text x="509.5" y="25" font-size="12.3" fill="#12129a" text-anchor="start" textLength="81.7" lengthAdjust="spacingAndGlyphs" >(x=262,&#160; y=366)</text><text x="659.5" y="13" font-size="12.3" fill="#12129a" text-anchor="start" textLength="157.5" lengthAdjust="spacingAndGlyphs" >wysokość (min, środek, max)</text><text x="690" y="25.5" font-size="12.3" fill="#12129a" text-anchor="start" textLength="96.2" lengthAdjust="spacingAndGlyphs" >119 - 123 - 167 m</text><text x="349.5" y="41" font-size="12.3" fill="#000" text-anchor="start" textLength="56" lengthAdjust="spacingAndGlyphs" >nie, 21.12</text><text x="516.3" y="41" font-size="12.3" fill="#000" text-anchor="start" textLength="60" lengthAdjust="spacingAndGlyphs" >pon, 22.12</text><text x="685" y="41" font-size="12.3" fill="#000" text-anchor="start" textLength="59.5" lengthAdjust="spacingAndGlyphs" >wto, 23.12</text><text x="306" y="54.5" font-size="12.3" fill="#000" text-anchor="start" textLength="24.5" lengthAdjust="spacingAndGlyphs" >CET</text><text x="770" y="54.5" font-size="12.3" fill="#000" text-anchor="start" textLength="23.7" lengthAdjust="spacingAndGlyphs" >CET</text><text x="356.5" y="54.5" font-size="12.3" fill="#000" text-anchor="middle" textLength="13.5" lengthAdjust="spacingAndGlyphs" >10</text><text x="398.5" y="54.5" font-size="12.3" fill="#000" text-anchor="middle" textLength="13.5" lengthAdjust="spacingAndGlyphs" >16</text><text x="441.5" y="54.5" font-size="12.3" fill="#000" text-anchor="middle" textLength="13.5" lengthAdjust="spacingAndGlyphs" >22</text><text x="483.5" y="54.5" font-size="12.3" fill="#000" text-anchor="middle" textLength="13.5" lengthAdjust="spacingAndGlyphs" >04</text><text x="525.5" y="54.5" font-size="12.3" fill="#000" text-anchor="middle" textLength="13.5" lengthAdjust="spacingAndGlyphs" >10</text><text x="567.5" y="54.5" font-size="12.3" fill="#000" text-anchor="middle" textLength="13.5" lengthAdjust="spacingAndGlyphs" >16</text><text x="610.5" y="54.5" font-size="12.3" fill="#000" text-anchor="middle" textLength="13.5" lengthAdjust="spacingAndGlyphs" >22</text><text x="652.5" y="54.5" font-size="12.3" fill="#000" text-anchor="middle" textLength="13.5" lengthAdjust="spacingAndGlyphs" >04</text><text x="694.5" y="54.5" font-size="12.3" fill="#000" text-anchor="middle" textLength="13.5" lengthAdjust="spacingAndGlyphs" >10</text><text x="736.5" y="54.5" font-size="12.3" fill="#000" text-anchor="middle" textLength="13.5" lengthAdjust="spacingAndGlyphs" >16</text><text x="356.5" y="616" font-size="12.3" fill="#000" text-anchor="middle" textLength="13.5" lengthAdjust="spacingAndGlyphs" >09</text><text x="398.5" y="616" font-size="12.3" fill="#000" text-anchor="middle" textLength="13.5" lengthAdjust="spacingAndGlyphs" >15</text><text x="441.5" y="616" font-size="12.3" fill="#000" text-anchor="middle" textLength="13.5" lengthAdjust="spacingAndGlyphs" >21</text><text x="483.5" y="616" font-size="12.3" fill="#000" text-anchor="middle" textLength="13.5" lengthAdjust="spacingAndGlyphs" >03</text><text x="525.5" y="616" font-size="12.3" fill="#000" text-anchor="middle" textLength="13.5" lengthAdjust="spacingAndGlyphs" >09</text><text x="567.5" y="616" font-size="12.3" fill="#000" text-anchor="middle" textLength="13.5" lengthAdjust="spacingAndGlyphs" >15</text><text x="610.5" y="616" font-size="12.3" fill="#000" text-anchor="middle" textLength="13.5" lengthAdjust="spacingAndGlyphs" >21</text><text x="652.5" y="616" font-size="12.3" fill="#000" text-anchor="middle" textLength="13.5" lengthAdjust="spacingAndGlyphs" >03</text><text x="694.5" y="616" font-size="12.3" fill="#000" text-anchor="middle" textLength="13.5" lengthAdjust="spacingAndGlyphs" >09</text><text x="736.5" y="616" font-size="12.3" fill="#000" text-anchor="middle" textLength="13.5" lengthAdjust="spacingAndGlyphs" >15</text><text x="306.3" y="616" font-size="12.3" fill="#000" text-anchor="start" textLength="23.7" lengthAdjust="spacingAndGlyphs" >UTC</text><text x="768.8" y="616" font-size="12.3" fill="#000" text-anchor="start" textLength="24.2" lengthAdjust="spacingAndGlyphs" >UTC</text><text x="361.3" y="629" font-size="12.3" fill="#000" text-anchor="start" textLength="31.7" lengthAdjust="spacingAndGlyphs" >21.12</text><text x="529.5" y="629" font-size="12.3" fill="#000" text-anchor="start" textLength="31.7" lengthAdjust="spacingAndGlyphs" >22.12</text><text x="698.8" y="629" font-size="12.3" fill="#000" text-anchor="start" textLength="31.7" lengthAdjust="spacingAndGlyphs" >23.12</text><text x="301.3" y="652.5" font-size="12.3" fill="#12129a" text-anchor="start" textLength="106.2" lengthAdjust="spacingAndGlyphs" >meteo@icm.edu.pl</text><text x="553.8" y="652.5" font-size="12.3" fill="#12129a" text-anchor="start" textLength="251.2" lengthAdjust="spacingAndGlyphs" >© 2007-2025 ICM, Uniwersytet Warszawski</text><text x="337.5" y="62" font-size="10.6" fill="#000" text-anchor="end" >5</text><text x="337.5" y="87" font-size="10.6" fill="#000" text-anchor="end" >0</text><text x="337.5" y="112" font-size="10.6" fill="#000" text-anchor="end" >-5</text><text x="337.5" y="137" font-size="10.6" fill="#000" text-anchor="end" >-10</text><text x="337.5" y="150" font-size="10.6" fill="#000" text-anchor="end" >5</text><text x="337.5" y="165" font-size="10.6" fill="#000" text-anchor="end" >4</text><text x="337.5" y="180" font-size="10.6" fill="#000" text-anchor="end" >3</text><text x="337.5" y="195" font-size="10.6" fill="#000" text-anchor="end" >2</text><text x="337.5" y="210" font-size="10.6" fill="#000" text-anchor="end" >1</text><text x="337.5" y="226" font-size="10.6" fill="#000" text-anchor="end" >0</text><text x="337.5" y="246" font-size="10.6" fill="#000" text-anchor="end" >1030</text><text x="337.5" y="267" font-size="10.6" fill="#000" text-anchor="end" >1025</text><text x="337.5" y="288" font-size="10.6" fill="#000" text-anchor="end" >1020</text><text x="337.5" y="308" font-size="10.6" fill="#000" text-anchor="end" >1015</text><text x="337.5" y="322" font-size="10.6" fill="#000" text-anchor="end" >15</text><text x="337.5" y="348" font-size="10.6" fill="#000" text-anchor="end" >10</text><text x="337.5" y="373" font-size="10.6" fill="#000" text-anchor="end" >5</text><text x="337.5" y="399" font-size="10.6" fill="#000" text-anchor="end" >0</text><text x="337.5" y="442" font-size="10.6" fill="#000" text-anchor="end" >15.0</text><text x="337.5" y="461" font-size="10.6" fill="#000" text-anchor="end" >7.0</text><text x="337.5" y="481" font-size="10.6" fill="#000" text-anchor="end" >2.0</text><text x="337.5" y="500" font-size="10.6" fill="#000" text-anchor="end" >0.5</text><text x="337.5" y="520" font-size="10.6" fill="#000" text-anchor="end" >0.0</text><text x="337.5" y="529" font-size="10.6" fill="#000" text-anchor="end" >8</text><text x="337.5" y="549" font-size="10.6" fill="#000" text-anchor="end" >6</text><text x="337.5" y="569" font-size="10.6" fill="#000" text-anchor="end" >4</text><text x="337.5" y="588" font-size="10.6" fill="#000" text-anchor="end" >2</text><text x="337.5" y="607" font-size="10.6" fill="#000" text-anchor="end" >0</text><text x="770.5" y="62" font-size="10.6" fill="#000" text-anchor="middle" >5</text><text x="770.5" y="87" font-size="10.6" fill="#000" text-anchor="middle" >0</text><text x="770.5" y="112" font-size="10.6" fill="#000" text-anchor="middle" >-5</text><text x="770.5" y="137" font-size="10.6" fill="#000" text-anchor="middle" >-10</text><text x="770.5" y="150" font-size="10.6" fill="#e8501a" text-anchor="middle" >100</text><text x="770.5" y="165" font-size="10.6" fill="#e8501a" text-anchor="middle" >90</text><text x="770.5" y="180" font-size="10.6" fill="#e8501a" text-anchor="middle" >80</text><text x="770.5" y="195" font-size="10.6" fill="#e8501a" text-anchor="middle" >70</text><text x="770.5" y="210" font-size="10.6" fill="#e8501a" text-anchor="middle" >60</text><text x="770.5" y="226" font-size="10.6" fill="#e8501a" text-anchor="middle" >50</text><text x="770.5" y="247.5" font-size="10.6" fill="#000" text-anchor="middle" >772</text><text x="770.5" y="266.7" font-size="10.6" fill="#000" text-anchor="middle" >769</text><text x="770.5" y="287.8" font-size="10.6" fill="#000" text-anchor="middle" >765</text><text x="770.5" y="308.5" font-size="10.6" fill="#000" text-anchor="middle" >761</text><text x="770.5" y="322.9" font-size="10.6" fill="#000" text-anchor="middle" >54</text><text x="770.5" y="347.3" font-size="10.6" fill="#000" text-anchor="middle" >36</text><text x="770.5" y="373.2" font-size="10.6" fill="#000" text-anchor="middle" >18</text><text x="770.5" y="397.7" font-size="10.6" fill="#000" text-anchor="middle" >0</text><text x="762" y="441" font-size="10.6" fill="#ff8c00" text-anchor="start" >100</text><text x="762" y="461" font-size="10.6" fill="#ff8c00" text-anchor="start" >20</text><text x="762" y="479.4" font-size="10.6" fill="#ff8c00" text-anchor="start" >5</text><text x="762" y="499.3" font-size="10.6" fill="#ff8c00" text-anchor="start" >1</text><text x="762" y="519.2" font-size="10.6" fill="#ff8c00" text-anchor="start" >0</text><text x="762" y="529" font-size="10.6" fill="#ff8c00" text-anchor="start" >1</text><text x="762" y="548" font-size="10.6" fill="#ff8c00" text-anchor="start" >0.75</text><text x="762" y="567" font-size="10.6" fill="#ff8c00" text-anchor="start" >0.5</text><text x="762" y="586.4" font-size="10.6" fill="#ff8c00" text-anchor="start" >0.25</text><text x="762" y="605.6" font-size="10.6" fill="#ff8c00" text-anchor="start" >0</text><text x="128.4" y="62.6" font-size="10.3" fill="#000" text-anchor="end" >30</text><text x="266.2" y="62.6" font-size="10.3" fill="#000" text-anchor="end" >30</text><text x="128.4" y="80.6" font-size="10.3" fill="#000" text-anchor="end" >20</text><text x="266.2" y="80.6" font-size="10.3" fill="#000" text-anchor="end" >20</text><text x="128.4" y="97.4" font-size="10.3" fill="#000" text-anchor="end" >10</text><text x="266.2" y="97.4" font-size="10.3" fill="#000" text-anchor="end" >10</text><text x="128.4" y="114.5" font-size="10.3" fill="#000" text-anchor="end" >0</text><text x="266.2" y="114.5" font-size="10.3" fill="#000" text-anchor="end" >0</text><text x="128.4" y="132.5" font-size="10.3" fill="#000" text-anchor="end" >-10</text><text x="266.2" y="132.5" font-size="10.3" fill="#000" text-anchor="end" >-10</text><text x="128.4" y="154" font-size="10.3" fill="#000" text-anchor="end" >2.0</text><text x="128.4" y="171" font-size="10.3" fill="#000" text-anchor="end" >1.5</text><text x="128.4" y="188.5" font-size="10.3" fill="#000" text-anchor="end" >1.0</text><text x="128.4" y="206" font-size="10.3" fill="#000" text-anchor="end" >0.5</text><text x="128.4" y="223" font-size="10.3" fill="#000" text-anchor="end" >0.0</text><text x="266.2" y="154" font-size="10.3" fill="#e8501a" text-anchor="end" >96</text><text x="266.2" y="171" font-size="10.3" fill="#e8501a" text-anchor="end" >84</text><text x="266.2" y="188.5" font-size="10.3" fill="#e8501a" text-anchor="end" >73</text><text x="266.2" y="206" font-size="10.3" fill="#e8501a" text-anchor="end" >61</text><text x="266.2" y="223" font-size="10.3" fill="#e8501a" text-anchor="end" >50</text><text x="128.4" y="235" font-size="10.3" fill="#000" text-anchor="end" >1018</text><text x="273.8" y="235" font-size="10.3" fill="#000" text-anchor="end" >1018</text><text x="128.4" y="257.5" font-size="10.3" fill="#000" text-anchor="end" >1016</text><text x="273.8" y="257.5" font-size="10.3" fill="#000" text-anchor="end" >1016</text><text x="128.4" y="282" font-size="10.3" fill="#000" text-anchor="end" >1014</text><text x="273.8" y="282" font-size="10.3" fill="#000" text-anchor="end" >1014</text><text x="128.4" y="304.5" font-size="10.3" fill="#000" text-anchor="end" >1012</text><text x="273.8" y="304.5" font-size="10.3" fill="#000" text-anchor="end" >1012</text><text x="128.4" y="319" font-size="10.3" fill="#000" text-anchor="end" >20</text><text x="128.4" y="337" font-size="10.3" fill="#000" text-anchor="end" >15</text><text x="128.4" y="357.5" font-size="10.3" fill="#000" text-anchor="end" >10</text><text x="128.4" y="376" font-size="10.3" fill="#000" text-anchor="end" >5</text><text x="128.4" y="395" font-size="10.3" fill="#000" text-anchor="end" >0</text><text x="266.2" y="318" font-size="10.3" fill="#000" text-anchor="end" >72</text><text x="266.2" y="337" font-size="10.3" fill="#000" text-anchor="end" >54</text><text x="266.2" y="357" font-size="10.3" fill="#000" text-anchor="end" >36</text><text x="266.2" y="376" font-size="10.3" fill="#000" text-anchor="end" >18</text><text x="266.2" y="395" font-size="10.3" fill="#000" text-anchor="end" >0</text><text x="128.4" y="439.5" font-size="10.3" fill="#000" text-anchor="end" >15.0</text><text x="128.4" y="460" font-size="10.3" fill="#000" text-anchor="end" >7.0</text><text x="128.4" y="478.8" font-size="10.3" fill="#000" text-anchor="end" >2.0</text><text x="128.4" y="498" font-size="10.3" fill="#000" text-anchor="end" >0.5</text><text x="128.4" y="517.5" font-size="10.3" fill="#000" text-anchor="end" >0.0</text><text x="251" y="440" font-size="10.3" fill="#ff8c00" text-anchor="start" >100</text><text x="251" y="458.8" font-size="10.3" fill="#ff8c00" text-anchor="start" >20</text><text x="251" y="477.5" font-size="10.3" fill="#ff8c00" text-anchor="start" >5</text><text x="251" y="497" font-size="10.3" fill="#ff8c00" text-anchor="start" >1</text><text x="251" y="516" font-size="10.3" fill="#ff8c00" text-anchor="start" >0</text><text x="128.4" y="526" font-size="10.3" fill="#000" text-anchor="end" >8</text><text x="128.4" y="546" font-size="10.3" fill="#000" text-anchor="end" >6</text><text x="128.4" y="565" font-size="10.3" fill="#000" text-anchor="end" >4</text><text x="128.4" y="585" font-size="10.3" fill="#000" text-anchor="end" >2</text><text x="128.4" y="604.5" font-size="10.3" fill="#000" text-anchor="end" >0</text><text x="251" y="526" font-size="10.3" fill="#ff8c00" text-anchor="start" >1</text><text x="251" y="546" font-size="10.3" fill="#ff8c00" text-anchor="start" >0.75</text><text x="251" y="565.5" font-size="10.3" fill="#ff8c00" text-anchor="start" >0.5</text><text x="251" y="585" font-size="10.3" fill="#ff8c00" text-anchor="start" >0.25</text><text x="251" y="604.5" font-size="10.3" fill="#ff8c00" text-anchor="start" >0</text><text x="163.7" y="51" font-size="12" fill="#000" text-anchor="middle" >20</text><text x="205.7" y="51" font-size="12" fill="#000" text-anchor="middle" >02</text><text x="244.5" y="51" font-size="12" fill="#000" text-anchor="middle" >08</text><text x="163.7" y="614.3" font-size="12" fill="#000" text-anchor="middle" >18</text><text x="205.2" y="614.3" font-size="12" fill="#000" text-anchor="middle" >00</text><text x="244.5" y="614.3" font-size="12" fill="#000" text-anchor="middle" >06</text><rect x="10" y="506" width="45" height="10" fill="#87cefa" /><rect x="10" y="551" width="41" height="11" fill="#87cefa" /><text x="5.8" y="17.8" font-size="10.5" fill="#000" text-anchor="start" textLength="58.8" lengthAdjust="spacingAndGlyphs" >Czas lokalny</text><text x="6" y="45.2" font-size="10.5" fill="#b22222" text-anchor="start" textLength="93.3" lengthAdjust="spacingAndGlyphs" >Temperatura gruntu</text><text x="27.8" y="55.6" font-size="10.5" fill="#b22222" text-anchor="start" textLength="38.7" lengthAdjust="spacingAndGlyphs" >max/min</text><text x="5.5" y="68" font-size="10.5" fill="#000" text-anchor="start" textLength="62" lengthAdjust="spacingAndGlyphs" >Temperatura:</text><text x="12.5" y="80" font-size="10.5" fill="#ff0000" text-anchor="start" textLength="77" lengthAdjust="spacingAndGlyphs" >punkt środkowy</text><text x="27.8" y="90" font-size="10.5" fill="#ffd4c8" text-anchor="start" textLength="38.7" lengthAdjust="spacingAndGlyphs" >max/min</text><text x="10" y="102" font-size="10.5" fill="#1010f0" text-anchor="start" textLength="57" lengthAdjust="spacingAndGlyphs" >odczuwana</text><text x="27.8" y="112" font-size="10.5" fill="#a8daf8" text-anchor="start" textLength="38.7" lengthAdjust="spacingAndGlyphs" >max/min</text><text x="5.5" y="123.5" font-size="10.5" fill="#6a5acd" text-anchor="start" textLength="87.5" lengthAdjust="spacingAndGlyphs" >Temp. punktu rosy</text><text x="5.5" y="141" font-size="10.5" fill="#ff1010" text-anchor="start" textLength="95" lengthAdjust="spacingAndGlyphs" >Opad powyżej skali</text><text x="5.5" y="154.8" font-size="10.5" fill="#e8501a" text-anchor="start" textLength="97.5" lengthAdjust="spacingAndGlyphs" >Wilgotność względna</text><text x="5.1" y="169" font-size="10.5" fill="#000" text-anchor="start" textLength="85.3" lengthAdjust="spacingAndGlyphs" >Wystąpienie burzy</text><text x="5.5" y="182.7" font-size="10.5" fill="#0ca80c" text-anchor="start" textLength="40" lengthAdjust="spacingAndGlyphs" >Deszcz:</text><text x="49.5" y="182.7" font-size="10.5" fill="#0ca80c" text-anchor="start" textLength="19.2" lengthAdjust="spacingAndGlyphs" >max</text><text x="49.5" y="193.5" font-size="10.5" fill="#0ca80c" text-anchor="start" textLength="29.2" lengthAdjust="spacingAndGlyphs" >średni</text><text x="5.5" y="205.3" font-size="10.5" fill="#1e3cd8" text-anchor="start" textLength="30" lengthAdjust="spacingAndGlyphs" >Śnieg:</text><text x="48.8" y="205.3" font-size="10.5" fill="#1e3cd8" text-anchor="start" textLength="19.2" lengthAdjust="spacingAndGlyphs" >max</text><text x="49.5" y="215.5" font-size="10.5" fill="#1e3cd8" text-anchor="start" textLength="29.2" lengthAdjust="spacingAndGlyphs" >średni</text><text x="5" y="227.5" font-size="10.5" fill="#ff1010" text-anchor="start" textLength="89.5" lengthAdjust="spacingAndGlyphs" >Wystąpienie opadu</text><text x="5.5" y="241" font-size="10.5" fill="#ff1010" text-anchor="start" textLength="70.7" lengthAdjust="spacingAndGlyphs" >konwekcyjnego</text><text x="5" y="267" font-size="10.5" fill="#000" text-anchor="start" textLength="42" lengthAdjust="spacingAndGlyphs" >Ciśnienie</text><text x="5" y="279.6" font-size="10.5" fill="#000" text-anchor="start" textLength="66.2" lengthAdjust="spacingAndGlyphs" >zredukowane</text><text x="5" y="292" font-size="10.5" fill="#000" text-anchor="start" textLength="87" lengthAdjust="spacingAndGlyphs" >do poziomu morza</text><text x="5" y="321" font-size="10.5" fill="#000" text-anchor="start" textLength="67" lengthAdjust="spacingAndGlyphs" >Wiatr na 10m:</text><text x="10" y="337.8" font-size="10.5" fill="#ff1010" text-anchor="start" textLength="100" lengthAdjust="spacingAndGlyphs" >poryw powyżej skali</text><text x="10" y="351.8" font-size="10.5" fill="#ff1010" text-anchor="start" textLength="94.5" lengthAdjust="spacingAndGlyphs" >max porywy wiatru</text><text x="10" y="371.4" font-size="10.5" fill="#12129a" text-anchor="start" textLength="78.7" lengthAdjust="spacingAndGlyphs" >prędkość wiatru</text><text x="10" y="384.3" font-size="10.5" fill="#12129a" text-anchor="start" textLength="88" lengthAdjust="spacingAndGlyphs" >w środku obszaru</text><text x="10" y="412.5" font-size="10.5" fill="#12129a" text-anchor="start" textLength="73.2" lengthAdjust="spacingAndGlyphs" >kierunek wiatru</text><text x="5.5" y="432.5" font-size="10.5" fill="#b22222" text-anchor="start" textLength="90.7" lengthAdjust="spacingAndGlyphs" >Wierzchołek chmur</text><text x="5.5" y="447.5" font-size="10.5" fill="#000" text-anchor="start" textLength="85.7" lengthAdjust="spacingAndGlyphs" >Podstawa chmur*</text><text x="5.5" y="458" font-size="10.5" fill="#000" text-anchor="start" textLength="47.5" lengthAdjust="spacingAndGlyphs" >o pokryciu</text><text x="11.2" y="470.8" font-size="10.5" fill="#000" text-anchor="start" textLength="43.2" lengthAdjust="spacingAndGlyphs" >&gt; 7.9 okt.</text><text x="11.2" y="481.8" font-size="10.5" fill="#606060" text-anchor="start" textLength="43.2" lengthAdjust="spacingAndGlyphs" >&gt; 6.5 okt.</text><text x="11.2" y="492.5" font-size="10.5" fill="#a0a0a0" text-anchor="start" textLength="42.5" lengthAdjust="spacingAndGlyphs" >&gt; 4.5 okt.</text><text x="11.2" y="502.5" font-size="10.5" fill="#d4d4d4" text-anchor="start" textLength="42.5" lengthAdjust="spacingAndGlyphs" >&gt; 2.5 okt.</text><text x="5.5" y="530" font-size="10.5" fill="#ff8c00" text-anchor="start" textLength="57" lengthAdjust="spacingAndGlyphs" >Widzialność</text><text x="5.5" y="546" font-size="10.5" fill="#000" text-anchor="start" textLength="39" lengthAdjust="spacingAndGlyphs" >Chmury:</text><text x="10" y="572.5" font-size="10.5" fill="#b0b0b0" text-anchor="start" textLength="35.5" lengthAdjust="spacingAndGlyphs" >średnie</text><text x="10" y="584.5" font-size="10.5" fill="#404040" text-anchor="start" textLength="26.2" lengthAdjust="spacingAndGlyphs" >niskie</text><text x="10" y="596" font-size="10.5" fill="#303030" text-anchor="start" textLength="61.2" lengthAdjust="spacingAndGlyphs" >bardzo niskie</text><text x="5.5" y="608" font-size="10.5" fill="#ffb400" text-anchor="start" textLength="20.7" lengthAdjust="spacingAndGlyphs" >Mgła</text><text x="5.8" y="29.4" font-size="10.3" fill="#000" textLength="54.5" lengthAdjust="spacing">(CET/CEST)</text><text x="5.5" y="625.8" font-size="10.8" fill="#000" textLength="132" lengthAdjust="spacing">Czas uniwersalny (UTC)</text><text x="11.2" y="514.5" font-size="10.5" fill="#ffffff" text-anchor="start" textLength="42.5" lengthAdjust="spacingAndGlyphs" >&gt; 0.1 okt.</text><text x="11" y="560" font-size="10.5" fill="#ffffff" text-anchor="start" textLength="39" lengthAdjust="spacingAndGlyphs" >wysokie</text><text x="5" y="651" font-size="9" fill="#000" text-anchor="start" textLength="103" lengthAdjust="spacingAndGlyphs" font-weight="bold">* powyżej poziomu morza</text><g transform="translate(0,0) rotate(-90)"></g><g transform="translate(293.3,96.4) rotate(-90)"><text x="0" y="0" font-size="12.2" fill="#12129a" text-anchor="middle">temperatura</text></g><g transform="translate(305.4,96.8) rotate(-90)"><text x="0" y="0" font-size="12.2" fill="#12129a" text-anchor="middle">(°C)</text></g><g transform="translate(293.3,184.6) rotate(-90)"><text x="0" y="0" font-size="12.2" fill="#12129a" text-anchor="middle">opad</text></g><g transform="translate(305.4,184.6) rotate(-90)"><text x="0" y="0" font-size="12.2" fill="#12129a" text-anchor="middle">(mm/h, kg/m²/h)</text></g><g transform="translate(293.3,272.5) rotate(-90)"><text x="0" y="0" font-size="12.2" fill="#12129a" text-anchor="middle">ciśnienie</text></g><g transform="translate(305.4,272.8) rotate(-90)"><text x="0" y="0" font-size="12.2" fill="#12129a" text-anchor="middle">(hPa)</text></g><g transform="translate(293.3,361.6) rotate(-90)"><text x="0" y="0" font-size="12.2" fill="#12129a" text-anchor="middle">wiatr</text></g><g transform="translate(305.4,360.3) rotate(-90)"><text x="0" y="0" font-size="12.2" fill="#12129a" text-anchor="middle">(m/s)</text></g><g transform="translate(293.3,474.5) rotate(-90)"><text x="0" y="0" font-size="12.2" fill="#12129a" text-anchor="middle">pion. rozciągł. chm.</text></g><g transform="translate(305.4,473.8) rotate(-90)"><text x="0" y="0" font-size="12.2" fill="#12129a" text-anchor="middle">(km)</text></g><g transform="translate(293.3,571.9) rotate(-90)"><text x="0" y="0" font-size="12.2" fill="#12129a" text-anchor="middle">zachmurzenie</text></g><g transform="translate(305.4,562.9) rotate(-90)"><text x="0" y="0" font-size="12.2" fill="#12129a" text-anchor="middle">(oktanty)</text></g><g transform="translate(803.2,96.5) rotate(-90)"><text x="0" y="0" font-size="12.2" fill="#12129a" text-anchor="middle">(°C)</text></g><g transform="translate(816.3,96.5) rotate(-90)"><text x="0" y="0" font-size="12.2" fill="#12129a" text-anchor="middle">temperatura</text></g><g transform="translate(803.2,184.5) rotate(-90)"><text x="0" y="0" font-size="12.2" fill="#12129a" text-anchor="middle">(%)</text></g><g transform="translate(816.3,189) rotate(-90)"><text x="0" y="0" font-size="12.2" fill="#12129a" text-anchor="middle">wilgotność wzgl.</text></g><g transform="translate(803.2,274) rotate(-90)"><text x="0" y="0" font-size="12.2" fill="#12129a" text-anchor="middle">(mm Hg)</text></g><g transform="translate(816.3,273.2) rotate(-90)"><text x="0" y="0" font-size="12.2" fill="#12129a" text-anchor="middle">ciśnienie</text></g><g transform="translate(803.2,361) rotate(-90)"><text x="0" y="0" font-size="12.2" fill="#12129a" text-anchor="middle">(km/h)</text></g><g transform="translate(816.3,361) rotate(-90)"><text x="0" y="0" font-size="12.2" fill="#12129a" text-anchor="middle">wiatr</text></g><g transform="translate(803.2,474) rotate(-90)"><text x="0" y="0" font-size="12.2" fill="#12129a" text-anchor="middle">(km)</text></g><g transform="translate(816.3,474.8) rotate(-90)"><text x="0" y="0" font-size="12.2" fill="#12129a" text-anchor="middle">widzialność</text></g><g transform="translate(803.2,562.9) rotate(-90)"><text x="0" y="0" font-size="12.2" fill="#12129a" text-anchor="middle">(frakcja)</text></g><g transform="translate(816.3,561.9) rotate(-90)"><text x="0" y="0" font-size="12.2" fill="#12129a" text-anchor="middle">mgła</text></g><text x="283.9" y="419.8" font-size="12.2" fill="#12129a" textLength="11.3" lengthAdjust="spacingAndGlyphs">W</text><text x="294.9" y="410.6" font-size="10.7" fill="#12129a" textLength="7" lengthAdjust="spacingAndGlyphs">N</text><text x="302.09999999999997" y="419.8" font-size="12" fill="#12129a" textLength="5.9" lengthAdjust="spacingAndGlyphs">E</text><text x="294.9" y="428" font-size="11.5" fill="#12129a" textLength="6.2" lengthAdjust="spacingAndGlyphs">S</text><text x="793" y="419.8" font-size="12.2" fill="#12129a" textLength="11.3" lengthAdjust="spacingAndGlyphs">W</text><text x="804" y="410.6" font-size="10.7" fill="#12129a" textLength="7" lengthAdjust="spacingAndGlyphs">N</text><text x="811.2" y="419.8" font-size="12" fill="#12129a" textLength="5.9" lengthAdjust="spacingAndGlyphs">E</text><text x="804" y="428" font-size="11.5" fill="#12129a" textLength="6.2" lengthAdjust="spacingAndGlyphs">S</text><polyline points="67.5,16.5 132.5,16.5 157.0,45.5" fill="none" stroke="#000" stroke-width="1" stroke-linejoin="round" stroke-linejoin="miter"/><polyline points="102.5,44.5 118.7,44.5 150.0,84.0" fill="none" stroke="#b22222" stroke-width="1" stroke-linejoin="round" stroke-linejoin="miter"/><polyline points="91.0,76.6 114.7,76.6" fill="none" stroke="#ff0000" stroke-width="1" stroke-linejoin="round" stroke-linejoin="miter"/><polyline points="130.3,76.6 134.4,77.6 158.0,104.0" fill="none" stroke="#ff0000" stroke-width="1" stroke-linejoin="round" stroke-linejoin="miter"/><polyline points="70.0,99.5 132.0,99.5 137.0,103.0" fill="none" stroke="#1010f0" stroke-width="1" stroke-linejoin="round" stroke-linejoin="miter"/><polyline points="94.0,120.2 132.0,120.2 142.6,113.5" fill="none" stroke="#6a5acd" stroke-width="1" stroke-linejoin="round" stroke-linejoin="miter"/><polyline points="102.5,137.5 140.0,137.5 146.2,147.0" fill="none" stroke="#ff1010" stroke-width="1" stroke-linejoin="round" stroke-linejoin="miter"/><polyline points="104.5,151.3 111.2,151.3" fill="none" stroke="#e8501a" stroke-width="1" stroke-linejoin="round" stroke-linejoin="miter"/><polyline points="130.0,151.3 134.0,152.0 144.0,163.0" fill="none" stroke="#e8501a" stroke-width="1" stroke-linejoin="round" stroke-linejoin="miter"/><polyline points="92.8,165.5 112.6,165.5" fill="none" stroke="#000" stroke-width="1" stroke-linejoin="round" stroke-linejoin="miter"/><polyline points="131.4,167.5 134.0,168.0 138.2,172.0" fill="none" stroke="#000" stroke-width="1" stroke-linejoin="round" stroke-linejoin="miter"/><polyline points="71.2,179.5 138.7,179.5" fill="none" stroke="#14c814" stroke-width="1" stroke-linejoin="round" stroke-linejoin="miter"/><polyline points="80.5,190.5 136.2,190.5" fill="none" stroke="#14c814" stroke-width="1" stroke-linejoin="round" stroke-linejoin="miter"/><polyline points="70.0,202.5 111.2,202.5" fill="none" stroke="#2040e0" stroke-width="1" stroke-linejoin="round" stroke-linejoin="miter"/><polyline points="128.7,202.5 133.7,200.5 160.5,172.0" fill="none" stroke="#2040e0" stroke-width="1" stroke-linejoin="round" stroke-linejoin="miter"/><polyline points="81.2,212.5 131.2,212.5 157.5,185.0" fill="none" stroke="#2040e0" stroke-width="1" stroke-linejoin="round" stroke-linejoin="miter"/><polyline points="96.2,225.5 143.7,225.5 147.5,220.0" fill="none" stroke="#ff1010" stroke-width="1" stroke-linejoin="round" stroke-linejoin="miter"/><polyline points="51.2,264.5 131.2,264.5 136.2,260.0" fill="none" stroke="#000" stroke-width="1" stroke-linejoin="round" stroke-linejoin="miter"/><polyline points="110.0,334.5 115.0,334.5" fill="none" stroke="#ff1010" stroke-width="1" stroke-linejoin="round" stroke-linejoin="miter"/><polyline points="130.0,334.4 139.0,316.0" fill="none" stroke="#ff1010" stroke-width="1" stroke-linejoin="round" stroke-linejoin="miter"/><polyline points="107.5,348.5 130.0,348.5 147.5,340.5" fill="none" stroke="#ff1010" stroke-width="1" stroke-linejoin="round" stroke-linejoin="miter"/><polyline points="92.5,367.5 136.2,367.5" fill="none" stroke="#000090" stroke-width="1" stroke-linejoin="round" stroke-linejoin="miter"/><polyline points="86.2,410.5 141.2,410.5" fill="none" stroke="#000090" stroke-width="1" stroke-linejoin="round" stroke-linejoin="miter"/><polyline points="100.0,430.5 132.5,430.5 185.0,447.5" fill="none" stroke="#b22222" stroke-width="1" stroke-linejoin="round" stroke-linejoin="miter"/><polyline points="57.5,468.5 131.2,468.5 136.0,466.5 191.5,456.0" fill="none" stroke="#000" stroke-width="1" stroke-linejoin="round" stroke-linejoin="miter"/><polyline points="57.5,480.5 140.0,480.5" fill="none" stroke="#606060" stroke-width="1" stroke-linejoin="round" stroke-linejoin="miter"/><polyline points="57.0,490.5 130.0,490.5 143.0,500.5" fill="none" stroke="#a0a0a0" stroke-width="1" stroke-linejoin="round" stroke-linejoin="miter"/><polyline points="57.5,500.5 132.5,500.5 136.2,503.7" fill="none" stroke="#d4d4d4" stroke-width="1" stroke-linejoin="round" stroke-linejoin="miter"/><polyline points="56.2,509.5 135.0,509.5" fill="none" stroke="#87cefa" stroke-width="1" stroke-linejoin="round" stroke-linejoin="miter"/><polyline points="56.2,511.5 135.0,511.5" fill="none" stroke="#87cefa" stroke-width="1" stroke-linejoin="round" stroke-linejoin="miter"/><polyline points="67.5,527.5 128.7,527.5 174.0,465.0" fill="none" stroke="#ff8c00" stroke-width="1" stroke-linejoin="round" stroke-linejoin="miter"/><polyline points="54.0,556.5 136.0,556.5" fill="none" stroke="#87cefa" stroke-width="1" stroke-linejoin="round" stroke-linejoin="miter"/><polyline points="54.0,558.5 136.0,558.5" fill="none" stroke="#87cefa" stroke-width="1" stroke-linejoin="round" stroke-linejoin="miter"/><polyline points="136.0,557.5 186.0,557.5" fill="none" stroke="#f4faff" stroke-width="1" stroke-linejoin="round" stroke-linejoin="miter"/><polyline points="50.0,570.5 193.0,570.5" fill="none" stroke="#a0a0a0" stroke-width="1" stroke-linejoin="round" stroke-linejoin="miter"/><polyline points="40.0,582.5 121.2,582.5" fill="none" stroke="#404040" stroke-width="1" stroke-linejoin="round" stroke-linejoin="miter"/><polyline points="130.0,582.5 136.0,582.5" fill="none" stroke="#404040" stroke-width="1" stroke-linejoin="round" stroke-linejoin="miter"/><polyline points="75.0,593.5 136.2,593.5" fill="none" stroke="#303030" stroke-width="1" stroke-linejoin="round" stroke-linejoin="miter"/><polyline points="30.0,605.5 215.0,605.5 217.5,600.0" fill="none" stroke="#ffb400" stroke-width="1" stroke-linejoin="round" stroke-linejoin="miter"/><polyline points="138.7,623.5 150.0,623.5 158.0,607.0" fill="none" stroke="#000" stroke-width="1" stroke-linejoin="round" stroke-linejoin="miter"/></svg></body></html>
